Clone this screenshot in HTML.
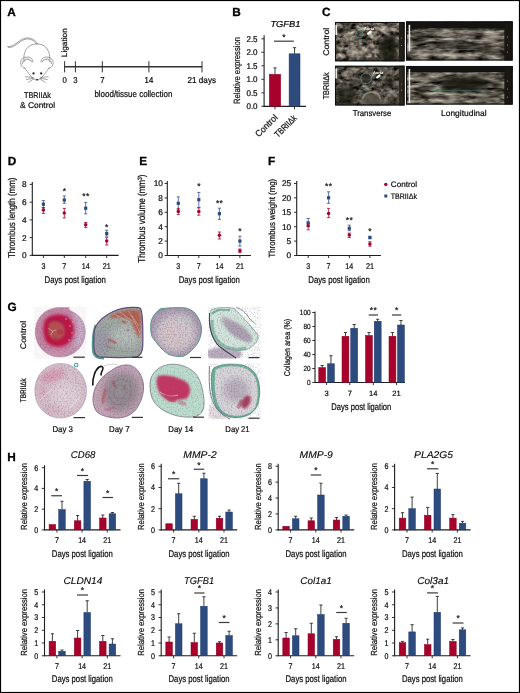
<!DOCTYPE html>
<html><head><meta charset="utf-8"><title>Figure</title>
<style>html,body{margin:0;padding:0;background:#fff;}svg{display:block;will-change:transform;}text{font-family:"Liberation Sans",sans-serif;stroke:#1e1e1e;stroke-width:0.22px;}</style>
</head><body>
<svg width="520" height="693" viewBox="0 0 520 693" font-family="Liberation Sans, sans-serif" text-rendering="geometricPrecision">
<defs>
<filter id="usn" x="0" y="0" width="100%" height="100%" color-interpolation-filters="sRGB">
 <feTurbulence type="fractalNoise" baseFrequency="0.16 0.22" numOctaves="3" seed="7" result="n"/>
 <feColorMatrix in="n" type="matrix" values="1.2 0 0 0 -0.21  1.17 0 0 0 -0.22  1.09 0 0 0 -0.22  0 0 0 0 1" result="c"/>
 <feGaussianBlur in="c" stdDeviation="0.5"/>
</filter>
<filter id="usn2" x="0" y="0" width="100%" height="100%" color-interpolation-filters="sRGB">
 <feTurbulence type="fractalNoise" baseFrequency="0.07 0.26" numOctaves="3" seed="11" result="n"/>
 <feColorMatrix in="n" type="matrix" values="1.12 0 0 0 -0.19  1.1 0 0 0 -0.2  1.03 0 0 0 -0.2  0 0 0 0 1" result="c"/>
 <feGaussianBlur in="c" stdDeviation="0.5"/>
</filter>
<filter id="bl1"><feGaussianBlur stdDeviation="1.2"/></filter>
<filter id="bl2"><feGaussianBlur stdDeviation="2.2"/></filter>
<filter id="bl3"><feGaussianBlur stdDeviation="3.5"/></filter>
<filter id="bl05"><feGaussianBlur stdDeviation="0.5"/></filter>
<filter id="hn" x="0" y="0" width="100%" height="100%" color-interpolation-filters="sRGB">
 <feTurbulence type="fractalNoise" baseFrequency="0.7" numOctaves="2" seed="3" result="n"/>
 <feColorMatrix in="n" type="matrix" values="0 0 0 0 0.36  0 0 0 0 0.28  0 0 0 0 0.42  3.2 0 0 0 -1.45" />
</filter>
</defs>
<rect x="0" y="0" width="520" height="693" fill="#fff"/>
<text x="7.30" y="15.80" font-size="11.8" font-weight="bold" style="fill:#000;stroke:#000;stroke-width:0.3px">A</text>
<g fill="none" stroke="#7a7a7a" stroke-width="0.7" stroke-linecap="round" stroke-linejoin="round">
<path d="M8.2 47.4 C 12 48.6, 17 44, 22 40.6 C 27 37.6, 33 38.6, 36.6 44.2"/>
<path d="M7.6 46.5 C 12 47.4, 16.5 43, 21.5 39.6 C 27 36.4, 33.8 37.6, 37.8 43.8"/>
<path d="M24.2 61.5 C 22.5 53, 26.5 44.2, 36.5 43.9 C 46.5 43.6, 51 52, 49.6 61.5"/>
<path d="M25 68.5 C 21 67.5, 19.8 63, 21.2 60.2 C 22.6 57.4, 26.5 56.4, 29.6 57.4 C 31.8 58.2, 33 60, 32.8 62"/>
<path d="M22.4 63.5 C 22.6 60.5, 25.5 58.8, 28.6 59.4 C 30 59.7, 31 60.6, 31.4 61.6" stroke="#b0b0b0" stroke-width="1.3"/>
<path d="M48.8 68.5 C 52.8 67.5, 54 63, 52.6 60.2 C 51.2 57.4, 47.3 56.4, 44.2 57.4 C 42 58.2, 40.8 60, 41 62"/>
<path d="M51.4 63.5 C 51.2 60.5, 48.3 58.8, 45.2 59.4 C 43.8 59.7, 42.8 60.6, 42.4 61.6" stroke="#b0b0b0" stroke-width="1.3"/>
<path d="M24.6 67.8 C 28 72.5, 32.5 79.5, 36.9 80.3 C 41.3 79.5, 45.8 72.5, 49.2 67.8"/>
<path d="M33.2 77.4 L 25.6 76.8 M33.4 78.2 L 26.4 79.6 M33.8 78.8 L 28.6 82.2 M40.6 77.4 L 48.2 76.8 M40.4 78.2 L 47.4 79.6 M40 78.8 L 45.2 82.2"/>
</g>
<circle cx="33.5" cy="73.4" r="1.15" fill="#222"/><circle cx="41.2" cy="73.4" r="1.15" fill="#222"/>
<path d="M35.7 78.9 L 38.5 78.9 L 37.1 80.8 Z" fill="#222"/>
<text x="37.50" y="98.00" font-size="8.3" text-anchor="middle" textLength="27" lengthAdjust="spacingAndGlyphs">TBRIIΔk</text>
<text x="37.50" y="107.80" font-size="8.3" text-anchor="middle" textLength="35" lengthAdjust="spacingAndGlyphs">&amp; Control</text>
<line x1="64.40" y1="66.70" x2="202.20" y2="66.70" stroke="#333" stroke-width="1.35"/>
<line x1="64.60" y1="61.20" x2="64.60" y2="72.40" stroke="#333" stroke-width="1.0"/>
<line x1="75.40" y1="61.20" x2="75.40" y2="72.40" stroke="#333" stroke-width="1.0"/>
<line x1="102.30" y1="61.20" x2="102.30" y2="72.40" stroke="#333" stroke-width="1.0"/>
<line x1="148.90" y1="61.20" x2="148.90" y2="72.40" stroke="#333" stroke-width="1.0"/>
<line x1="202.00" y1="61.20" x2="202.00" y2="72.40" stroke="#333" stroke-width="1.0"/>
<text x="64.60" y="83.40" font-size="8.6" text-anchor="middle" textLength="4.3" lengthAdjust="spacingAndGlyphs">0</text>
<text x="75.40" y="83.40" font-size="8.6" text-anchor="middle" textLength="4.3" lengthAdjust="spacingAndGlyphs">3</text>
<text x="102.30" y="83.40" font-size="8.6" text-anchor="middle" textLength="4.3" lengthAdjust="spacingAndGlyphs">7</text>
<text x="148.90" y="83.40" font-size="8.6" text-anchor="middle" textLength="8.61" lengthAdjust="spacingAndGlyphs">14</text>
<text x="187.60" y="83.40" font-size="8.6" textLength="28.4" lengthAdjust="spacingAndGlyphs">21 days</text>
<text x="94.40" y="96.60" font-size="9.2" textLength="78" lengthAdjust="spacingAndGlyphs">blood/tissue collection</text>
<text x="67.00" y="57.20" font-size="7.8" textLength="29" lengthAdjust="spacingAndGlyphs" transform="rotate(-90 67.00 57.20)">Ligation</text>
<text x="232.20" y="15.80" font-size="11.8" font-weight="bold" style="fill:#000;stroke:#000;stroke-width:0.3px">B</text>
<text x="285.40" y="26.80" font-size="8.6" text-anchor="middle" font-style="italic" textLength="30" lengthAdjust="spacingAndGlyphs">TGFB1</text>
<line x1="264.10" y1="35.20" x2="264.10" y2="106.80" stroke="#1e1e1e" stroke-width="1.1"/>
<line x1="261.40" y1="106.30" x2="264.10" y2="106.30" stroke="#1e1e1e" stroke-width="0.9"/>
<text x="257.60" y="109.29" font-size="8.3" text-anchor="end" textLength="11.19" lengthAdjust="spacingAndGlyphs">0.0</text>
<line x1="261.40" y1="92.80" x2="264.10" y2="92.80" stroke="#1e1e1e" stroke-width="0.9"/>
<text x="257.60" y="95.79" font-size="8.3" text-anchor="end" textLength="11.19" lengthAdjust="spacingAndGlyphs">0.5</text>
<line x1="261.40" y1="79.30" x2="264.10" y2="79.30" stroke="#1e1e1e" stroke-width="0.9"/>
<text x="257.60" y="82.29" font-size="8.3" text-anchor="end" textLength="11.19" lengthAdjust="spacingAndGlyphs">1.0</text>
<line x1="261.40" y1="65.80" x2="264.10" y2="65.80" stroke="#1e1e1e" stroke-width="0.9"/>
<text x="257.60" y="68.79" font-size="8.3" text-anchor="end" textLength="11.19" lengthAdjust="spacingAndGlyphs">1.5</text>
<line x1="261.40" y1="52.30" x2="264.10" y2="52.30" stroke="#1e1e1e" stroke-width="0.9"/>
<text x="257.60" y="55.29" font-size="8.3" text-anchor="end" textLength="11.19" lengthAdjust="spacingAndGlyphs">2.0</text>
<line x1="261.40" y1="38.80" x2="264.10" y2="38.80" stroke="#1e1e1e" stroke-width="0.9"/>
<text x="257.60" y="41.79" font-size="8.3" text-anchor="end" textLength="11.19" lengthAdjust="spacingAndGlyphs">2.5</text>
<line x1="263.50" y1="106.30" x2="306.00" y2="106.30" stroke="#1e1e1e" stroke-width="1.2"/>
<line x1="275.00" y1="74.30" x2="275.00" y2="67.90" stroke="#2a2a2a" stroke-width="0.9"/>
<line x1="273.40" y1="67.90" x2="276.60" y2="67.90" stroke="#2a2a2a" stroke-width="0.9"/>
<rect x="269.30" y="74.30" width="11.40" height="32.00" fill="#a6022c" stroke="#8c0022" stroke-width="0.5"/>
<line x1="294.55" y1="53.80" x2="294.55" y2="47.70" stroke="#2a2a2a" stroke-width="0.9"/>
<line x1="292.95" y1="47.70" x2="296.15" y2="47.70" stroke="#2a2a2a" stroke-width="0.9"/>
<rect x="289.10" y="53.80" width="10.90" height="52.50" fill="#2e4b7d" stroke="#1a3670" stroke-width="0.5"/>
<line x1="275.00" y1="106.30" x2="275.00" y2="109.30" stroke="#1e1e1e" stroke-width="0.9"/>
<line x1="294.50" y1="106.30" x2="294.50" y2="109.30" stroke="#1e1e1e" stroke-width="0.9"/>
<line x1="274.00" y1="41.20" x2="293.80" y2="41.20" stroke="#3a3a3a" stroke-width="1.2"/>
<text x="283.90" y="39.50" font-size="8.5" text-anchor="middle">*</text>
<text x="239.60" y="70.50" font-size="9.1" text-anchor="middle" textLength="67" lengthAdjust="spacingAndGlyphs" transform="rotate(-90 239.60 70.50)">Relative expression</text>
<text x="278.30" y="118.10" font-size="9" text-anchor="end" textLength="27.5" lengthAdjust="spacingAndGlyphs" transform="rotate(-45 278.30 118.10)">Control</text>
<text x="297.20" y="118.80" font-size="9" text-anchor="end" textLength="27" lengthAdjust="spacingAndGlyphs" transform="rotate(-45 297.20 118.80)">TBRIIΔk</text>
<text x="322.00" y="15.80" font-size="11.8" font-weight="bold" style="fill:#000;stroke:#000;stroke-width:0.3px">C</text>
<clipPath id="cu1"><rect x="335" y="22" width="69.5" height="39.3"/></clipPath>
<g clip-path="url(#cu1)">
<rect x="335" y="22" width="69.5" height="39.3" filter="url(#usn)"/>
<ellipse cx="342.3" cy="30.7" rx="4.5" ry="3.2" fill="#16130f" opacity="0.8" filter="url(#bl2)"/>
<ellipse cx="388" cy="48" rx="10" ry="12" fill="#16130f" opacity="0.85" filter="url(#bl2)"/>
<ellipse cx="392" cy="40" rx="6" ry="6" fill="#16130f" opacity="0.5" filter="url(#bl2)"/>
<ellipse cx="392" cy="59" rx="12" ry="3" fill="#16130f" opacity="0.7" filter="url(#bl2)"/>
<ellipse cx="366.5" cy="43" rx="4" ry="2.5" fill="#16130f" opacity="0.5" filter="url(#bl2)"/>
<ellipse cx="353" cy="40" rx="3" ry="2" fill="#16130f" opacity="0.35" filter="url(#bl2)"/>
<ellipse cx="338" cy="46" rx="3" ry="5" fill="#16130f" opacity="0.4" filter="url(#bl2)"/>
<ellipse cx="368" cy="60" rx="32" ry="1.8" fill="#16130f" opacity="0.55" filter="url(#bl2)"/>
<ellipse cx="359.3" cy="34.3" rx="3" ry="3" fill="#16130f" opacity="0.35" filter="url(#bl2)"/>
<ellipse cx="356" cy="52" rx="11" ry="4" fill="#cfc8ba" opacity="0.45" filter="url(#bl2)"/>
<ellipse cx="386" cy="29" rx="8" ry="4" fill="#cfc8ba" opacity="0.35" filter="url(#bl2)"/>
<ellipse cx="348" cy="37" rx="5" ry="3" fill="#cfc8ba" opacity="0.3" filter="url(#bl2)"/>
<ellipse cx="372" cy="49" rx="5" ry="3" fill="#cfc8ba" opacity="0.3" filter="url(#bl2)"/>
</g>
<rect x="399.00" y="22.00" width="5.50" height="39.30" fill="#221e19"/>
<rect x="335.5" y="22.5" width="68.5" height="38.3" fill="none" stroke="#111" stroke-width="1.1"/>
<rect x="335.40" y="25.00" width="1.70" height="10.00" fill="#ececec"/>
<circle cx="401.5" cy="38" r="0.6" fill="#b8a030"/><circle cx="401.5" cy="45.5" r="0.6" fill="#b8a030"/>
<circle cx="359.3" cy="34.3" r="3.7" fill="none" stroke="#4f9a94" stroke-width="0.7"/>
<path d="M356 41.2 L 366 41.2" stroke="#4f9a94" stroke-width="0.5" opacity="0.8"/>
<text x="364.00" y="30.40" font-size="3.9" font-weight="bold" fill="#fff" style="stroke:none">Aorta</text>
<path d="M368.3 33.7 L 370.6 31.7" stroke="#fff" stroke-width="2.3" stroke-linecap="round"/>
<clipPath id="cu2"><rect x="335" y="65.8" width="69.5" height="39.6"/></clipPath>
<g clip-path="url(#cu2)">
<rect x="335" y="65.8" width="69.5" height="39.6" filter="url(#usn)"/>
<rect x="335.00" y="65.80" width="69.50" height="39.60" fill="#000" opacity="0.18"/>
<ellipse cx="366.3" cy="78.5" rx="5" ry="5" fill="#16130f" opacity="0.75" filter="url(#bl2)"/>
<ellipse cx="346" cy="95" rx="10" ry="10" fill="#16130f" opacity="0.7" filter="url(#bl2)"/>
<ellipse cx="372" cy="100" rx="8" ry="5" fill="#16130f" opacity="0.65" filter="url(#bl2)"/>
<ellipse cx="388" cy="83" rx="6" ry="6" fill="#16130f" opacity="0.5" filter="url(#bl2)"/>
<ellipse cx="396" cy="100" rx="5" ry="5" fill="#16130f" opacity="0.5" filter="url(#bl2)"/>
<ellipse cx="355" cy="82" rx="5" ry="4" fill="#16130f" opacity="0.4" filter="url(#bl2)"/>
<ellipse cx="368" cy="105" rx="32" ry="1.8" fill="#16130f" opacity="0.5" filter="url(#bl2)"/>
<ellipse cx="352" cy="72" rx="9" ry="3" fill="#cfc8ba" opacity="0.35" filter="url(#bl2)"/>
<ellipse cx="386" cy="71" rx="8" ry="2" fill="#cfc8ba" opacity="0.3" filter="url(#bl2)"/>
<ellipse cx="392" cy="93" rx="4" ry="3" fill="#cfc8ba" opacity="0.35" filter="url(#bl2)"/>
<ellipse cx="345" cy="87" rx="4" ry="2" fill="#cfc8ba" opacity="0.3" filter="url(#bl2)"/>
</g>
<path d="M360 105 C 360 95, 365.5 91, 371.5 91 C 377.5 91, 383 95, 383 105 Z" fill="#6e675c" opacity="0.6" filter="url(#bl1)"/>
<path d="M362.5 99 C 363.5 94.5, 367 92.2, 371.5 92.2 C 376 92.2, 379.5 94.5, 380.5 99" fill="none" stroke="#b0a898" stroke-width="1.8" opacity="0.6" filter="url(#bl05)"/>
<path d="M385 104 C 385 97, 388 93.5, 392 93.5 C 396 93.5, 398.5 97, 398.5 104" fill="none" stroke="#a49c8e" stroke-width="2.5" opacity="0.4" filter="url(#bl1)"/>
<rect x="399.00" y="65.80" width="5.50" height="39.60" fill="#2a2620"/>
<rect x="335.5" y="66.3" width="68.5" height="38.6" fill="none" stroke="#111" stroke-width="1.1"/>
<rect x="335.40" y="68.50" width="1.70" height="10.00" fill="#e4e4e4"/>
<circle cx="401.5" cy="84" r="0.6" fill="#b8a030"/><circle cx="401.5" cy="90" r="0.6" fill="#b8a030"/>
<circle cx="366.2" cy="78.3" r="5.4" fill="none" stroke="#4f9a94" stroke-width="0.7"/>
<path d="M362 88.5 C 364 90.5, 369 90.5, 372 89" fill="none" stroke="#4f9a94" stroke-width="0.6"/>
<text x="373.00" y="73.80" font-size="3.9" font-weight="bold" fill="#fff" style="stroke:none">Aorta</text>
<path d="M377.2 77.3 L 379.6 75.4" stroke="#fff" stroke-width="2.3" stroke-linecap="round"/>
<clipPath id="cl1"><rect x="406" y="21.5" width="106.6" height="39"/></clipPath>
<g clip-path="url(#cl1)">
<rect x="406" y="21.5" width="106.6" height="39" filter="url(#usn2)"/>
<ellipse cx="420" cy="37" rx="10" ry="5" fill="#16130f" opacity="0.5" filter="url(#bl2)"/>
<ellipse cx="472" cy="47.5" rx="30" ry="3.5" fill="#16130f" opacity="0.65" filter="url(#bl2)" transform="rotate(8 472 47.5)"/>
<ellipse cx="445" cy="44" rx="12" ry="3" fill="#16130f" opacity="0.5" filter="url(#bl2)"/>
<ellipse cx="412" cy="58" rx="20" ry="2" fill="#16130f" opacity="0.4" filter="url(#bl2)"/>
<ellipse cx="446" cy="33" rx="8" ry="3" fill="#cfc8ba" opacity="0.5" filter="url(#bl2)"/>
<ellipse cx="490" cy="37" rx="10" ry="5" fill="#cfc8ba" opacity="0.35" filter="url(#bl2)"/>
<ellipse cx="430" cy="53" rx="15" ry="2.5" fill="#cfc8ba" opacity="0.45" filter="url(#bl2)"/>
<ellipse cx="465" cy="56" rx="18" ry="2" fill="#cfc8ba" opacity="0.35" filter="url(#bl2)"/>
</g>
<rect x="406.00" y="21.50" width="106.60" height="6.80" fill="#15130f"/>
<rect x="504.30" y="21.50" width="8.30" height="39.00" fill="#1a1712"/>
<rect x="406.5" y="22" width="105.6" height="38" fill="none" stroke="#111" stroke-width="1.1"/>
<rect x="408.60" y="24.80" width="1.60" height="26.50" fill="#ececec"/>
<circle cx="507.5" cy="37" r="0.6" fill="#b8a030"/>
<circle cx="507.5" cy="45" r="0.6" fill="#b8a030"/>
<circle cx="507.5" cy="52" r="0.6" fill="#b8a030"/>
<path d="M436 49.5 L 478 49.5" stroke="#4f9a94" stroke-width="0.45" opacity="0.8"/>
<clipPath id="cl2"><rect x="406" y="66" width="106.6" height="38.6"/></clipPath>
<g clip-path="url(#cl2)">
<rect x="406" y="66" width="106.6" height="38.6" filter="url(#usn2)"/>
<ellipse cx="465" cy="84" rx="25" ry="8" fill="#16130f" opacity="0.85" filter="url(#bl2)"/>
<ellipse cx="425" cy="89" rx="8" ry="3" fill="#16130f" opacity="0.4" filter="url(#bl2)"/>
<ellipse cx="498" cy="88" rx="6" ry="8" fill="#16130f" opacity="0.3" filter="url(#bl2)"/>
<ellipse cx="425" cy="78" rx="12" ry="3" fill="#cfc8ba" opacity="0.4" filter="url(#bl2)"/>
<ellipse cx="450" cy="100" rx="20" ry="2.5" fill="#cfc8ba" opacity="0.4" filter="url(#bl2)"/>
<ellipse cx="485" cy="96" rx="12" ry="3" fill="#cfc8ba" opacity="0.35" filter="url(#bl2)"/>
<ellipse cx="480" cy="74" rx="15" ry="2" fill="#cfc8ba" opacity="0.3" filter="url(#bl2)"/>
</g>
<rect x="406.00" y="66.00" width="106.60" height="6.20" fill="#15130f"/>
<rect x="504.30" y="66.00" width="8.30" height="38.60" fill="#1a1712"/>
<rect x="406.5" y="66.5" width="105.6" height="37.6" fill="none" stroke="#111" stroke-width="1.1"/>
<rect x="408.60" y="69.00" width="1.60" height="34.00" fill="#ececec"/>
<circle cx="507.5" cy="81" r="0.6" fill="#b8a030"/>
<circle cx="507.5" cy="89" r="0.6" fill="#b8a030"/>
<circle cx="507.5" cy="97" r="0.6" fill="#b8a030"/>
<path d="M430 90.5 L 484 90.5" stroke="#4f9a94" stroke-width="0.45" opacity="0.8"/>
<text x="329.00" y="41.80" font-size="8.2" text-anchor="middle" textLength="28" lengthAdjust="spacingAndGlyphs" transform="rotate(-90 329.00 41.80)">Control</text>
<text x="329.20" y="85.80" font-size="8.4" text-anchor="middle" textLength="27" lengthAdjust="spacingAndGlyphs" transform="rotate(-90 329.20 85.80)">TBRIIΔk</text>
<text x="372.00" y="115.60" font-size="8.4" text-anchor="middle" textLength="38.5" lengthAdjust="spacingAndGlyphs">Transverse</text>
<text x="463.80" y="115.60" font-size="8.4" text-anchor="middle" textLength="45.5" lengthAdjust="spacingAndGlyphs">Longitudinal</text>
<text x="7.80" y="165.00" font-size="11.8" font-weight="bold" style="fill:#000;stroke:#000;stroke-width:0.3px">D</text>
<line x1="32.30" y1="181.90" x2="32.30" y2="255.90" stroke="#1e1e1e" stroke-width="1.1"/>
<line x1="29.60" y1="255.40" x2="32.30" y2="255.40" stroke="#1e1e1e" stroke-width="0.9"/>
<text x="26.60" y="258.39" font-size="8.3" text-anchor="end" textLength="4.62" lengthAdjust="spacingAndGlyphs">0</text>
<line x1="29.60" y1="237.65" x2="32.30" y2="237.65" stroke="#1e1e1e" stroke-width="0.9"/>
<text x="26.60" y="240.64" font-size="8.3" text-anchor="end" textLength="4.62" lengthAdjust="spacingAndGlyphs">2</text>
<line x1="29.60" y1="219.90" x2="32.30" y2="219.90" stroke="#1e1e1e" stroke-width="0.9"/>
<text x="26.60" y="222.89" font-size="8.3" text-anchor="end" textLength="4.62" lengthAdjust="spacingAndGlyphs">4</text>
<line x1="29.60" y1="202.15" x2="32.30" y2="202.15" stroke="#1e1e1e" stroke-width="0.9"/>
<text x="26.60" y="205.14" font-size="8.3" text-anchor="end" textLength="4.62" lengthAdjust="spacingAndGlyphs">6</text>
<line x1="29.60" y1="184.40" x2="32.30" y2="184.40" stroke="#1e1e1e" stroke-width="0.9"/>
<text x="26.60" y="187.39" font-size="8.3" text-anchor="end" textLength="4.62" lengthAdjust="spacingAndGlyphs">8</text>
<line x1="31.80" y1="255.40" x2="118.60" y2="255.40" stroke="#1e1e1e" stroke-width="1.1"/>
<line x1="43.40" y1="255.40" x2="43.40" y2="258.00" stroke="#1e1e1e" stroke-width="0.9"/>
<line x1="64.30" y1="255.40" x2="64.30" y2="258.00" stroke="#1e1e1e" stroke-width="0.9"/>
<line x1="85.70" y1="255.40" x2="85.70" y2="258.00" stroke="#1e1e1e" stroke-width="0.9"/>
<line x1="106.70" y1="255.40" x2="106.70" y2="258.00" stroke="#1e1e1e" stroke-width="0.9"/>
<text x="43.40" y="269.40" font-size="8.3" text-anchor="middle" textLength="3.97" lengthAdjust="spacingAndGlyphs">3</text>
<text x="64.30" y="269.40" font-size="8.3" text-anchor="middle" textLength="3.97" lengthAdjust="spacingAndGlyphs">7</text>
<text x="85.70" y="269.40" font-size="8.3" text-anchor="middle" textLength="7.94" lengthAdjust="spacingAndGlyphs">14</text>
<text x="106.70" y="269.40" font-size="8.3" text-anchor="middle" textLength="7.94" lengthAdjust="spacingAndGlyphs">21</text>
<line x1="43.40" y1="200.60" x2="43.40" y2="207.90" stroke="#34528a" stroke-width="0.8"/>
<line x1="41.80" y1="200.60" x2="45.00" y2="200.60" stroke="#34528a" stroke-width="0.8"/>
<line x1="41.80" y1="207.90" x2="45.00" y2="207.90" stroke="#34528a" stroke-width="0.8"/>
<line x1="43.40" y1="207.50" x2="43.40" y2="213.40" stroke="#a80c34" stroke-width="0.8"/>
<line x1="41.80" y1="207.50" x2="45.00" y2="207.50" stroke="#a80c34" stroke-width="0.8"/>
<line x1="41.80" y1="213.40" x2="45.00" y2="213.40" stroke="#a80c34" stroke-width="0.8"/>
<rect x="41.80" y="202.60" width="3.20" height="3.20" fill="#2e4b7d"/>
<circle cx="43.40" cy="210.10" r="1.75" fill="#a6022c"/>
<line x1="64.30" y1="196.00" x2="64.30" y2="203.30" stroke="#34528a" stroke-width="0.8"/>
<line x1="62.70" y1="196.00" x2="65.90" y2="196.00" stroke="#34528a" stroke-width="0.8"/>
<line x1="62.70" y1="203.30" x2="65.90" y2="203.30" stroke="#34528a" stroke-width="0.8"/>
<line x1="64.30" y1="208.40" x2="64.30" y2="217.90" stroke="#a80c34" stroke-width="0.8"/>
<line x1="62.70" y1="208.40" x2="65.90" y2="208.40" stroke="#a80c34" stroke-width="0.8"/>
<line x1="62.70" y1="217.90" x2="65.90" y2="217.90" stroke="#a80c34" stroke-width="0.8"/>
<rect x="62.70" y="198.40" width="3.20" height="3.20" fill="#2e4b7d"/>
<circle cx="64.30" cy="213.00" r="1.75" fill="#a6022c"/>
<line x1="85.70" y1="202.40" x2="85.70" y2="213.90" stroke="#34528a" stroke-width="0.8"/>
<line x1="84.10" y1="202.40" x2="87.30" y2="202.40" stroke="#34528a" stroke-width="0.8"/>
<line x1="84.10" y1="213.90" x2="87.30" y2="213.90" stroke="#34528a" stroke-width="0.8"/>
<line x1="85.70" y1="222.50" x2="85.70" y2="227.60" stroke="#a80c34" stroke-width="0.8"/>
<line x1="84.10" y1="222.50" x2="87.30" y2="222.50" stroke="#a80c34" stroke-width="0.8"/>
<line x1="84.10" y1="227.60" x2="87.30" y2="227.60" stroke="#a80c34" stroke-width="0.8"/>
<rect x="84.10" y="206.60" width="3.20" height="3.20" fill="#2e4b7d"/>
<circle cx="85.70" cy="224.70" r="1.75" fill="#a6022c"/>
<line x1="106.70" y1="230.20" x2="106.70" y2="236.20" stroke="#34528a" stroke-width="0.8"/>
<line x1="105.10" y1="230.20" x2="108.30" y2="230.20" stroke="#34528a" stroke-width="0.8"/>
<line x1="105.10" y1="236.20" x2="108.30" y2="236.20" stroke="#34528a" stroke-width="0.8"/>
<line x1="106.70" y1="237.70" x2="106.70" y2="245.00" stroke="#a80c34" stroke-width="0.8"/>
<line x1="105.10" y1="237.70" x2="108.30" y2="237.70" stroke="#a80c34" stroke-width="0.8"/>
<line x1="105.10" y1="245.00" x2="108.30" y2="245.00" stroke="#a80c34" stroke-width="0.8"/>
<rect x="105.10" y="231.90" width="3.20" height="3.20" fill="#2e4b7d"/>
<circle cx="106.70" cy="241.10" r="1.75" fill="#a6022c"/>
<text x="64.30" y="193.50" font-size="8.5" text-anchor="middle">*</text>
<text x="83.85" y="199.00" font-size="8.5" text-anchor="middle">*</text>
<text x="87.55" y="199.00" font-size="8.5" text-anchor="middle">*</text>
<text x="106.70" y="229.50" font-size="8.5" text-anchor="middle">*</text>
<text x="75.20" y="282.90" font-size="9.7" text-anchor="middle" textLength="61.3" lengthAdjust="spacingAndGlyphs">Days post ligation</text>
<text x="15.00" y="217.80" font-size="9.8" text-anchor="middle" textLength="80.6" lengthAdjust="spacingAndGlyphs" transform="rotate(-90 15.00 217.80)">Thrombus length (mm)</text>
<text x="139.30" y="165.00" font-size="11.8" font-weight="bold" style="fill:#000;stroke:#000;stroke-width:0.3px">E</text>
<line x1="167.30" y1="181.00" x2="167.30" y2="256.00" stroke="#1e1e1e" stroke-width="1.1"/>
<line x1="164.60" y1="255.50" x2="167.30" y2="255.50" stroke="#1e1e1e" stroke-width="0.9"/>
<text x="162.90" y="258.49" font-size="8.3" text-anchor="end" textLength="4.62" lengthAdjust="spacingAndGlyphs">0</text>
<line x1="164.60" y1="241.10" x2="167.30" y2="241.10" stroke="#1e1e1e" stroke-width="0.9"/>
<text x="162.90" y="244.09" font-size="8.3" text-anchor="end" textLength="4.62" lengthAdjust="spacingAndGlyphs">2</text>
<line x1="164.60" y1="226.70" x2="167.30" y2="226.70" stroke="#1e1e1e" stroke-width="0.9"/>
<text x="162.90" y="229.69" font-size="8.3" text-anchor="end" textLength="4.62" lengthAdjust="spacingAndGlyphs">4</text>
<line x1="164.60" y1="212.30" x2="167.30" y2="212.30" stroke="#1e1e1e" stroke-width="0.9"/>
<text x="162.90" y="215.29" font-size="8.3" text-anchor="end" textLength="4.62" lengthAdjust="spacingAndGlyphs">6</text>
<line x1="164.60" y1="197.90" x2="167.30" y2="197.90" stroke="#1e1e1e" stroke-width="0.9"/>
<text x="162.90" y="200.89" font-size="8.3" text-anchor="end" textLength="4.62" lengthAdjust="spacingAndGlyphs">8</text>
<line x1="164.60" y1="183.50" x2="167.30" y2="183.50" stroke="#1e1e1e" stroke-width="0.9"/>
<text x="162.90" y="186.49" font-size="8.3" text-anchor="end" textLength="9.23" lengthAdjust="spacingAndGlyphs">10</text>
<line x1="166.80" y1="255.50" x2="250.90" y2="255.50" stroke="#1e1e1e" stroke-width="1.1"/>
<line x1="178.30" y1="255.50" x2="178.30" y2="258.10" stroke="#1e1e1e" stroke-width="0.9"/>
<line x1="198.80" y1="255.50" x2="198.80" y2="258.10" stroke="#1e1e1e" stroke-width="0.9"/>
<line x1="219.40" y1="255.50" x2="219.40" y2="258.10" stroke="#1e1e1e" stroke-width="0.9"/>
<line x1="239.90" y1="255.50" x2="239.90" y2="258.10" stroke="#1e1e1e" stroke-width="0.9"/>
<text x="178.30" y="269.40" font-size="8.3" text-anchor="middle" textLength="3.97" lengthAdjust="spacingAndGlyphs">3</text>
<text x="198.80" y="269.40" font-size="8.3" text-anchor="middle" textLength="3.97" lengthAdjust="spacingAndGlyphs">7</text>
<text x="219.40" y="269.40" font-size="8.3" text-anchor="middle" textLength="7.94" lengthAdjust="spacingAndGlyphs">14</text>
<text x="239.90" y="269.40" font-size="8.3" text-anchor="middle" textLength="7.94" lengthAdjust="spacingAndGlyphs">21</text>
<line x1="178.30" y1="196.90" x2="178.30" y2="209.70" stroke="#34528a" stroke-width="0.8"/>
<line x1="176.70" y1="196.90" x2="179.90" y2="196.90" stroke="#34528a" stroke-width="0.8"/>
<line x1="176.70" y1="209.70" x2="179.90" y2="209.70" stroke="#34528a" stroke-width="0.8"/>
<line x1="178.30" y1="208.40" x2="178.30" y2="214.60" stroke="#a80c34" stroke-width="0.8"/>
<line x1="176.70" y1="208.40" x2="179.90" y2="208.40" stroke="#a80c34" stroke-width="0.8"/>
<line x1="176.70" y1="214.60" x2="179.90" y2="214.60" stroke="#a80c34" stroke-width="0.8"/>
<rect x="176.70" y="201.70" width="3.20" height="3.20" fill="#2e4b7d"/>
<circle cx="178.30" cy="211.50" r="1.75" fill="#a6022c"/>
<line x1="198.80" y1="192.40" x2="198.80" y2="207.50" stroke="#34528a" stroke-width="0.8"/>
<line x1="197.20" y1="192.40" x2="200.40" y2="192.40" stroke="#34528a" stroke-width="0.8"/>
<line x1="197.20" y1="207.50" x2="200.40" y2="207.50" stroke="#34528a" stroke-width="0.8"/>
<line x1="198.80" y1="207.90" x2="198.80" y2="215.20" stroke="#a80c34" stroke-width="0.8"/>
<line x1="197.20" y1="207.90" x2="200.40" y2="207.90" stroke="#a80c34" stroke-width="0.8"/>
<line x1="197.20" y1="215.20" x2="200.40" y2="215.20" stroke="#a80c34" stroke-width="0.8"/>
<rect x="197.20" y="198.10" width="3.20" height="3.20" fill="#2e4b7d"/>
<circle cx="198.80" cy="211.50" r="1.75" fill="#a6022c"/>
<line x1="219.40" y1="208.20" x2="219.40" y2="219.40" stroke="#34528a" stroke-width="0.8"/>
<line x1="217.80" y1="208.20" x2="221.00" y2="208.20" stroke="#34528a" stroke-width="0.8"/>
<line x1="217.80" y1="219.40" x2="221.00" y2="219.40" stroke="#34528a" stroke-width="0.8"/>
<line x1="219.40" y1="232.00" x2="219.40" y2="239.00" stroke="#a80c34" stroke-width="0.8"/>
<line x1="217.80" y1="232.00" x2="221.00" y2="232.00" stroke="#a80c34" stroke-width="0.8"/>
<line x1="217.80" y1="239.00" x2="221.00" y2="239.00" stroke="#a80c34" stroke-width="0.8"/>
<rect x="217.80" y="212.10" width="3.20" height="3.20" fill="#2e4b7d"/>
<circle cx="219.40" cy="235.30" r="1.75" fill="#a6022c"/>
<line x1="239.90" y1="236.20" x2="239.90" y2="246.20" stroke="#34528a" stroke-width="0.8"/>
<line x1="238.30" y1="236.20" x2="241.50" y2="236.20" stroke="#34528a" stroke-width="0.8"/>
<line x1="238.30" y1="246.20" x2="241.50" y2="246.20" stroke="#34528a" stroke-width="0.8"/>
<line x1="239.90" y1="249.00" x2="239.90" y2="252.60" stroke="#a80c34" stroke-width="0.8"/>
<line x1="238.30" y1="249.00" x2="241.50" y2="249.00" stroke="#a80c34" stroke-width="0.8"/>
<line x1="238.30" y1="252.60" x2="241.50" y2="252.60" stroke="#a80c34" stroke-width="0.8"/>
<rect x="238.30" y="239.50" width="3.20" height="3.20" fill="#2e4b7d"/>
<circle cx="239.90" cy="250.80" r="1.75" fill="#a6022c"/>
<text x="198.80" y="189.30" font-size="8.5" text-anchor="middle">*</text>
<text x="217.55" y="205.80" font-size="8.5" text-anchor="middle">*</text>
<text x="221.25" y="205.80" font-size="8.5" text-anchor="middle">*</text>
<text x="239.90" y="234.10" font-size="8.5" text-anchor="middle">*</text>
<text x="209.30" y="282.90" font-size="9.7" text-anchor="middle" textLength="61.2" lengthAdjust="spacingAndGlyphs">Days post ligation</text>
<text x="145.2" y="218.6" font-size="10" text-anchor="middle" transform="rotate(-90 145.2 218.6)" textLength="88.3" lengthAdjust="spacingAndGlyphs">Thrombus volume (mm<tspan font-size="6.2" dy="-3.6">3</tspan><tspan dy="3.6">)</tspan></text>
<text x="267.90" y="165.00" font-size="11.8" font-weight="bold" style="fill:#000;stroke:#000;stroke-width:0.3px">F</text>
<line x1="296.70" y1="181.00" x2="296.70" y2="256.00" stroke="#1e1e1e" stroke-width="1.1"/>
<line x1="294.00" y1="255.50" x2="296.70" y2="255.50" stroke="#1e1e1e" stroke-width="0.9"/>
<text x="291.20" y="258.49" font-size="8.3" text-anchor="end" textLength="4.62" lengthAdjust="spacingAndGlyphs">0</text>
<line x1="294.00" y1="241.10" x2="296.70" y2="241.10" stroke="#1e1e1e" stroke-width="0.9"/>
<text x="291.20" y="244.09" font-size="8.3" text-anchor="end" textLength="4.62" lengthAdjust="spacingAndGlyphs">5</text>
<line x1="294.00" y1="226.70" x2="296.70" y2="226.70" stroke="#1e1e1e" stroke-width="0.9"/>
<text x="291.20" y="229.69" font-size="8.3" text-anchor="end" textLength="9.23" lengthAdjust="spacingAndGlyphs">10</text>
<line x1="294.00" y1="212.30" x2="296.70" y2="212.30" stroke="#1e1e1e" stroke-width="0.9"/>
<text x="291.20" y="215.29" font-size="8.3" text-anchor="end" textLength="9.23" lengthAdjust="spacingAndGlyphs">15</text>
<line x1="294.00" y1="197.90" x2="296.70" y2="197.90" stroke="#1e1e1e" stroke-width="0.9"/>
<text x="291.20" y="200.89" font-size="8.3" text-anchor="end" textLength="9.23" lengthAdjust="spacingAndGlyphs">20</text>
<line x1="294.00" y1="183.50" x2="296.70" y2="183.50" stroke="#1e1e1e" stroke-width="0.9"/>
<text x="291.20" y="186.49" font-size="8.3" text-anchor="end" textLength="9.23" lengthAdjust="spacingAndGlyphs">25</text>
<line x1="296.20" y1="255.50" x2="380.90" y2="255.50" stroke="#1e1e1e" stroke-width="1.1"/>
<line x1="308.20" y1="255.50" x2="308.20" y2="258.10" stroke="#1e1e1e" stroke-width="0.9"/>
<line x1="328.60" y1="255.50" x2="328.60" y2="258.10" stroke="#1e1e1e" stroke-width="0.9"/>
<line x1="349.30" y1="255.50" x2="349.30" y2="258.10" stroke="#1e1e1e" stroke-width="0.9"/>
<line x1="369.90" y1="255.50" x2="369.90" y2="258.10" stroke="#1e1e1e" stroke-width="0.9"/>
<text x="308.20" y="269.40" font-size="8.3" text-anchor="middle" textLength="3.97" lengthAdjust="spacingAndGlyphs">3</text>
<text x="328.60" y="269.40" font-size="8.3" text-anchor="middle" textLength="3.97" lengthAdjust="spacingAndGlyphs">7</text>
<text x="349.30" y="269.40" font-size="8.3" text-anchor="middle" textLength="7.94" lengthAdjust="spacingAndGlyphs">14</text>
<text x="369.90" y="269.40" font-size="8.3" text-anchor="middle" textLength="7.94" lengthAdjust="spacingAndGlyphs">21</text>
<line x1="308.20" y1="218.50" x2="308.20" y2="226.20" stroke="#34528a" stroke-width="0.8"/>
<line x1="306.60" y1="218.50" x2="309.80" y2="218.50" stroke="#34528a" stroke-width="0.8"/>
<line x1="306.60" y1="226.20" x2="309.80" y2="226.20" stroke="#34528a" stroke-width="0.8"/>
<line x1="308.20" y1="222.90" x2="308.20" y2="229.80" stroke="#a80c34" stroke-width="0.8"/>
<line x1="306.60" y1="222.90" x2="309.80" y2="222.90" stroke="#a80c34" stroke-width="0.8"/>
<line x1="306.60" y1="229.80" x2="309.80" y2="229.80" stroke="#a80c34" stroke-width="0.8"/>
<rect x="306.60" y="221.30" width="3.20" height="3.20" fill="#2e4b7d"/>
<circle cx="308.20" cy="225.80" r="1.75" fill="#a6022c"/>
<line x1="328.60" y1="191.80" x2="328.60" y2="203.30" stroke="#34528a" stroke-width="0.8"/>
<line x1="327.00" y1="191.80" x2="330.20" y2="191.80" stroke="#34528a" stroke-width="0.8"/>
<line x1="327.00" y1="203.30" x2="330.20" y2="203.30" stroke="#34528a" stroke-width="0.8"/>
<line x1="328.60" y1="208.40" x2="328.60" y2="217.60" stroke="#a80c34" stroke-width="0.8"/>
<line x1="327.00" y1="208.40" x2="330.20" y2="208.40" stroke="#a80c34" stroke-width="0.8"/>
<line x1="327.00" y1="217.60" x2="330.20" y2="217.60" stroke="#a80c34" stroke-width="0.8"/>
<rect x="327.00" y="196.20" width="3.20" height="3.20" fill="#2e4b7d"/>
<circle cx="328.60" cy="213.40" r="1.75" fill="#a6022c"/>
<line x1="349.30" y1="225.20" x2="349.30" y2="230.70" stroke="#34528a" stroke-width="0.8"/>
<line x1="347.70" y1="225.20" x2="350.90" y2="225.20" stroke="#34528a" stroke-width="0.8"/>
<line x1="347.70" y1="230.70" x2="350.90" y2="230.70" stroke="#34528a" stroke-width="0.8"/>
<line x1="349.30" y1="233.10" x2="349.30" y2="237.50" stroke="#a80c34" stroke-width="0.8"/>
<line x1="347.70" y1="233.10" x2="350.90" y2="233.10" stroke="#a80c34" stroke-width="0.8"/>
<line x1="347.70" y1="237.50" x2="350.90" y2="237.50" stroke="#a80c34" stroke-width="0.8"/>
<rect x="347.70" y="226.70" width="3.20" height="3.20" fill="#2e4b7d"/>
<circle cx="349.30" cy="234.90" r="1.75" fill="#a6022c"/>
<line x1="369.90" y1="236.30" x2="369.90" y2="238.70" stroke="#34528a" stroke-width="0.8"/>
<line x1="368.30" y1="236.30" x2="371.50" y2="236.30" stroke="#34528a" stroke-width="0.8"/>
<line x1="368.30" y1="238.70" x2="371.50" y2="238.70" stroke="#34528a" stroke-width="0.8"/>
<line x1="369.90" y1="241.70" x2="369.90" y2="246.20" stroke="#a80c34" stroke-width="0.8"/>
<line x1="368.30" y1="241.70" x2="371.50" y2="241.70" stroke="#a80c34" stroke-width="0.8"/>
<line x1="368.30" y1="246.20" x2="371.50" y2="246.20" stroke="#a80c34" stroke-width="0.8"/>
<rect x="368.30" y="235.90" width="3.20" height="3.20" fill="#2e4b7d"/>
<circle cx="369.90" cy="244.00" r="1.75" fill="#a6022c"/>
<text x="326.75" y="189.30" font-size="8.5" text-anchor="middle">*</text>
<text x="330.45" y="189.30" font-size="8.5" text-anchor="middle">*</text>
<text x="347.45" y="222.60" font-size="8.5" text-anchor="middle">*</text>
<text x="351.15" y="222.60" font-size="8.5" text-anchor="middle">*</text>
<text x="369.90" y="233.60" font-size="8.5" text-anchor="middle">*</text>
<text x="339.00" y="282.90" font-size="9.7" text-anchor="middle" textLength="61.5" lengthAdjust="spacingAndGlyphs">Days post ligation</text>
<text x="275.20" y="218.20" font-size="9" text-anchor="middle" textLength="78.8" lengthAdjust="spacingAndGlyphs" transform="rotate(-90 275.20 218.20)">Thrombus weight (mg)</text>
<circle cx="385.8" cy="184.4" r="1.7" fill="#a6022c"/>
<rect x="384.30" y="194.50" width="3.00" height="3.00" fill="#2e4b7d"/>
<text x="390.80" y="187.10" font-size="8" textLength="26.2" lengthAdjust="spacingAndGlyphs">Control</text>
<text x="390.80" y="198.70" font-size="8" textLength="26.2" lengthAdjust="spacingAndGlyphs">TBRIIΔk</text>
<text x="7.40" y="311.30" font-size="11.8" font-weight="bold" style="fill:#000;stroke:#000;stroke-width:0.3px">G</text>
<rect x="34.00" y="306.70" width="52.00" height="52.30" fill="#f8f6f6"/>
<clipPath id="g1"><path d="M35.3 332 C 35.3 317, 46 307.5, 60 307.5 C 64 307.5, 67 307.8, 69 307.2 C 68.5 309, 69.5 310, 72 311.5 C 81 316, 85.3 323, 85.3 332 C 85.3 346, 74 357, 60 357 C 46 357, 35.3 346, 35.3 332 Z"/></clipPath>
<path d="M35.3 332 C 35.3 317, 46 307.5, 60 307.5 C 64 307.5, 67 307.8, 69 307.2 C 68.5 309, 69.5 310, 72 311.5 C 81 316, 85.3 323, 85.3 332 C 85.3 346, 74 357, 60 357 C 46 357, 35.3 346, 35.3 332 Z" fill="#c58ca8" opacity="1"/>
<g clip-path="url(#g1)">
<ellipse cx="77" cy="330" rx="9" ry="18" fill="#cbbfd4" opacity="0.85" filter="url(#bl3)"/>
<ellipse cx="62" cy="352" rx="18" ry="5" fill="#cfa0b8" opacity="0.5" filter="url(#bl2)"/>
<path d="M42 322 C 46 312, 62 310, 71 315 C 77 319, 79 328, 77 336 C 75 343, 70 348, 62 349.5 C 53 350.5, 45 347, 42.5 340 C 40.5 334, 40.5 327, 42 322 Z" fill="#c96a92" opacity="0.7" filter="url(#bl2)"/>
<path d="M44.5 322 C 47 315, 59 313, 67 316.5 C 72 319, 74.5 326, 73.5 333 C 72.5 340, 68.5 344.5, 62 346 C 55 347.5, 48 345, 45.5 340 C 43.5 335, 43 327, 44.5 322 Z" fill="#bf0f3c" opacity="0.92" filter="url(#bl1)"/>
<path d="M49 324 C 52 320, 58 321, 62 324 C 65 327, 66 332, 63 337 C 59 341, 53 341, 50 337 C 48 333, 47.5 328, 49 324 Z" fill="#b67a56" opacity="0.6" filter="url(#bl1)"/>
<ellipse cx="60" cy="332" rx="3" ry="2.5" fill="#b02848" opacity="0.5" filter="url(#bl05)"/>
<ellipse cx="56" cy="338" rx="2" ry="1.5" fill="#b02848" opacity="0.4" filter="url(#bl05)"/>
<ellipse cx="70" cy="326" rx="1.2" ry="0.9" fill="#e0a8c0" opacity="0.45" filter="url(#bl05)"/>
<ellipse cx="72" cy="333" rx="1.2" ry="0.9" fill="#e0a8c0" opacity="0.45" filter="url(#bl05)"/>
<ellipse cx="69" cy="340" rx="1.2" ry="0.9" fill="#e0a8c0" opacity="0.45" filter="url(#bl05)"/>
<ellipse cx="66" cy="319" rx="1.2" ry="0.9" fill="#e0a8c0" opacity="0.45" filter="url(#bl05)"/>
<ellipse cx="73" cy="322" rx="1.2" ry="0.9" fill="#e0a8c0" opacity="0.45" filter="url(#bl05)"/>
<path d="M48.5 328.5 L 53 331.5 L 50.5 335 M 52.5 331 L 56 330" stroke="#f2e4dc" stroke-width="0.6" fill="none" opacity="0.8"/>
</g>
<rect x="35" y="307" width="51" height="50" filter="url(#hn)" opacity="0.3" clip-path="url(#g1)"/>
<path d="M35.3 332 C 35.3 317, 46 307.5, 60 307.5 C 64 307.5, 67 307.8, 69 307.2 C 68.5 309, 69.5 310, 72 311.5 C 81 316, 85.3 323, 85.3 332 C 85.3 346, 74 357, 60 357 C 46 357, 35.3 346, 35.3 332 Z" fill="none" stroke="#b08aa8" stroke-width="0.5"/>
<line x1="73.40" y1="357.20" x2="84.80" y2="357.20" stroke="#333" stroke-width="1.2"/>
<clipPath id="g2"><path d="M94 334 C 94 326, 100 319, 107 315 C 113 311, 120 308, 128 307.6 C 134 307.3, 139 307, 140.5 308.5 C 143 313, 143 330, 142.8 345 C 142.7 352, 141 356.5, 135 357.2 C 123 357.8, 108 357.5, 99 356.8 C 94.5 356, 93.8 350, 93.8 344 Z"/></clipPath>
<path d="M96 325 C 93 332, 92.5 345, 93.5 352 C 94 356, 97 358, 104 358.3" fill="none" stroke="#4f9c88" stroke-width="2.6"/>
<path d="M94 334 C 94 326, 100 319, 107 315 C 113 311, 120 308, 128 307.6 C 134 307.3, 139 307, 140.5 308.5 C 143 313, 143 330, 142.8 345 C 142.7 352, 141 356.5, 135 357.2 C 123 357.8, 108 357.5, 99 356.8 C 94.5 356, 93.8 350, 93.8 344 Z" fill="#9ea9a2" opacity="1"/>
<g clip-path="url(#g2)">
<ellipse cx="126" cy="336" rx="15" ry="11" fill="#c2cac5" opacity="0.6" filter="url(#bl3)"/>
<ellipse cx="101" cy="343" rx="8" ry="14" fill="#9c8caa" opacity="0.5" filter="url(#bl3)"/>
<path d="M110 316 C 118 310.5, 131 309, 139.5 310.5 C 141.5 318, 141.5 330, 139 339 C 136 334, 134 327, 131 321 C 127 317, 118 317, 110 318 Z" fill="#c6432b" opacity="0.68" filter="url(#bl1)"/>
<path d="M114 314 L 130 322" stroke="#c8d0cb" stroke-width="0.9" opacity="0.55"/>
<path d="M120 312 L 136 324" stroke="#c8d0cb" stroke-width="0.9" opacity="0.55"/>
<path d="M128 311 L 139 326" stroke="#c8d0cb" stroke-width="0.9" opacity="0.55"/>
<path d="M132 316 L 140 333" stroke="#c8d0cb" stroke-width="0.9" opacity="0.55"/>
<ellipse cx="124" cy="322" rx="3" ry="1.2" fill="#c84a30" opacity="0.6" filter="url(#bl05)" transform="rotate(30 124 322)"/>
<ellipse cx="112" cy="341" rx="5" ry="1.5" fill="#b24040" opacity="0.6" filter="url(#bl05)" transform="rotate(25 112 341)"/>
<ellipse cx="109" cy="347" rx="4" ry="1.1" fill="#a05060" opacity="0.45" filter="url(#bl05)" transform="rotate(25 109 347)"/>
<ellipse cx="128" cy="330" rx="2" ry="1" fill="#c05040" opacity="0.5" filter="url(#bl05)"/>
</g>
<rect x="93" y="307" width="51" height="51" filter="url(#hn)" opacity="0.3" clip-path="url(#g2)"/>
<path d="M94 334 C 94 326, 100 319, 107 315 C 113 311, 120 308, 128 307.6 C 134 307.3, 139 307, 140.5 308.5 C 143 313, 143 330, 142.8 345 C 142.7 352, 141 356.5, 135 357.2 C 123 357.8, 108 357.5, 99 356.8 C 94.5 356, 93.8 350, 93.8 344 Z" fill="none" stroke="#5e4a7a" stroke-width="1.2"/>
<line x1="132.00" y1="357.30" x2="142.50" y2="357.30" stroke="#333" stroke-width="1.2"/>
<clipPath id="g3"><path d="M160 308.9 C 168 307.5, 178 307.5, 184.2 307.8 C 190 308.5, 195 312, 197 316 C 200 320, 201.5 325, 201.5 329 C 201.5 336, 199 342, 195.8 345.8 C 192 350, 188 355, 183 356.2 C 178 357, 172 356, 168 354 C 162 350, 156 343, 152 336.6 C 150.5 332, 150.5 327, 150.8 323.9 C 151.5 318, 154 314, 160 308.9 Z"/></clipPath>
<path d="M160 308.9 C 168 307.5, 178 307.5, 184.2 307.8 C 190 308.5, 195 312, 197 316 C 200 320, 201.5 325, 201.5 329 C 201.5 336, 199 342, 195.8 345.8 C 192 350, 188 355, 183 356.2 C 178 357, 172 356, 168 354 C 162 350, 156 343, 152 336.6 C 150.5 332, 150.5 327, 150.8 323.9 C 151.5 318, 154 314, 160 308.9 Z" fill="#aa9cb2" opacity="1"/>
<g clip-path="url(#g3)">
<ellipse cx="176" cy="333" rx="20" ry="19" fill="#d6cace" opacity="0.95" filter="url(#bl3)"/>
<ellipse cx="172" cy="338" rx="9" ry="10" fill="#d6c4c6" opacity="0.7" filter="url(#bl2)"/>
<ellipse cx="185" cy="320" rx="8" ry="6" fill="#c2ccc6" opacity="0.5" filter="url(#bl2)"/>
</g>
<rect x="150" y="307" width="52" height="51" filter="url(#hn)" opacity="0.3" clip-path="url(#g3)"/>
<path d="M160 308.9 C 168 307.5, 178 307.5, 184.2 307.8 C 190 308.5, 195 312, 197 316 C 200 320, 201.5 325, 201.5 329 C 201.5 336, 199 342, 195.8 345.8 C 192 350, 188 355, 183 356.2 C 178 357, 172 356, 168 354 C 162 350, 156 343, 152 336.6 C 150.5 332, 150.5 327, 150.8 323.9 C 151.5 318, 154 314, 160 308.9 Z" fill="none" stroke="#4e8e80" stroke-width="0.9"/>
<path d="M155 314 C 158 311, 162 309.5, 166 309" fill="none" stroke="#4e9684" stroke-width="0.7"/>
<line x1="190.00" y1="357.50" x2="201.00" y2="357.50" stroke="#333" stroke-width="1.2"/>
<clipPath id="g4b"><rect x="208.1" y="307" width="52.5" height="51.6"/></clipPath>
<g clip-path="url(#g4b)">
<ellipse cx="224" cy="354" rx="18" ry="7" fill="#b0a0b6" opacity="0.85" filter="url(#bl1)"/>
<path d="M211 310 C 218 307, 228 306.8, 234 308.5 C 240 314, 250 325, 258 335 C 259 340, 255 345, 248 349 C 240 352, 228 350, 220 345 C 213 340, 209.5 330, 209.5 320 C 209.5 315, 209.8 312, 211 310 Z" fill="#d4e7dd" opacity="1"/>
<path d="M212 314 C 215 310, 222 309, 230 310" fill="none" stroke="#7fb3a2" stroke-width="2.4" filter="url(#bl05)"/>
<path d="M212 320 C 211.5 330, 214 338, 221 344 C 228 349, 238 350, 246 348" fill="none" stroke="#8fc0ae" stroke-width="3" filter="url(#bl05)"/>
<ellipse cx="238" cy="331" rx="17" ry="6.5" fill="#a898ab" opacity="0.85" filter="url(#bl1)" transform="rotate(36 238 331)"/>
<ellipse cx="226" cy="321" rx="6" ry="4" fill="#b0a4b4" opacity="0.6" filter="url(#bl1)" transform="rotate(36 226 321)"/>
</g>
<path d="M211 310 C 218 307, 228 306.8, 234 308.5 C 240 314, 250 325, 258 335 C 259 340, 255 345, 248 349 C 240 352, 228 350, 220 345 C 213 340, 209.5 330, 209.5 320 C 209.5 315, 209.8 312, 211 310 Z" fill="none" stroke="#6a9c90" stroke-width="0.7"/>
<path d="M236 307.5 C 242 309, 246 313, 249 318 C 251 321, 254 322, 255.5 324" fill="none" stroke="#6e7590" stroke-width="0.8"/>
<path d="M209.5 313 C 208.8 325, 210 337, 219 346 C 226 352, 232 355, 236 358" fill="none" stroke="#3e4450" stroke-width="1.1"/>
<rect x="208" y="307" width="53" height="52" filter="url(#hn)" opacity="0.25" clip-path="url(#g4b)"/>
<line x1="248.50" y1="357.60" x2="259.50" y2="357.60" stroke="#333" stroke-width="1.2"/>
<clipPath id="g5"><path d="M34.8 391 C 34.8 375, 46 363.5, 60.5 363.5 C 75 363.5, 86.5 375, 86.5 391 C 86.5 406, 75 418, 60.5 418 C 46 418, 34.8 406, 34.8 391 Z"/></clipPath>
<path d="M34.8 391 C 34.8 375, 46 363.5, 60.5 363.5 C 75 363.5, 86.5 375, 86.5 391 C 86.5 406, 75 418, 60.5 418 C 46 418, 34.8 406, 34.8 391 Z" fill="#d8c2cc" opacity="1"/>
<g clip-path="url(#g5)">
<ellipse cx="52" cy="376" rx="13" ry="6" fill="#d688a4" opacity="0.6" filter="url(#bl2)" transform="rotate(-20 52 376)"/>
<ellipse cx="42" cy="392" rx="5" ry="8" fill="#d4a0b4" opacity="0.45" filter="url(#bl2)"/>
<ellipse cx="66" cy="396" rx="14" ry="13" fill="#e4d6dc" opacity="0.7" filter="url(#bl3)"/>
<ellipse cx="52" cy="410" rx="10" ry="5" fill="#d2a8bb" opacity="0.45" filter="url(#bl2)"/>
</g>
<rect x="34" y="363" width="53" height="56" filter="url(#hn)" opacity="0.25" clip-path="url(#g5)"/>
<path d="M34.8 391 C 34.8 375, 46 363.5, 60.5 363.5 C 75 363.5, 86.5 375, 86.5 391 C 86.5 406, 75 418, 60.5 418 C 46 418, 34.8 406, 34.8 391 Z" fill="none" stroke="#9a88a6" stroke-width="0.5"/>
<path d="M40 400 L 52 389 M 70 408 L 80 396" stroke="#f2eaee" stroke-width="0.6" fill="none"/>
<circle cx="76.2" cy="365" r="1.8" fill="none" stroke="#4aa0a0" stroke-width="1.1"/>
<line x1="73.50" y1="417.60" x2="85.00" y2="417.60" stroke="#333" stroke-width="1.2"/>
<clipPath id="g6"><path d="M126 364.9 C 134 364.5, 141 371, 143.4 383.4 C 144.5 393, 141 402, 136.5 408.8 C 132 415, 124 418, 118 418 C 110 418, 102 416, 97.2 412.2 C 93 407, 92.5 400, 93.2 396 C 94 390, 96 385, 99.5 381 C 103 376, 107 373, 111 370.7 C 116 367, 121 365, 126 364.9 Z"/></clipPath>
<path d="M126 364.9 C 134 364.5, 141 371, 143.4 383.4 C 144.5 393, 141 402, 136.5 408.8 C 132 415, 124 418, 118 418 C 110 418, 102 416, 97.2 412.2 C 93 407, 92.5 400, 93.2 396 C 94 390, 96 385, 99.5 381 C 103 376, 107 373, 111 370.7 C 116 367, 121 365, 126 364.9 Z" fill="#c4a6b6" opacity="1"/>
<g clip-path="url(#g6)">
<ellipse cx="121" cy="392" rx="18" ry="20" fill="#948890" opacity="0.92" filter="url(#bl3)" transform="rotate(20 121 392)"/>
<ellipse cx="122" cy="386" rx="10" ry="10" fill="#8f9894" opacity="0.5" filter="url(#bl3)"/>
<ellipse cx="104" cy="396" rx="1.6" ry="9" fill="#c43c48" opacity="0.45" filter="url(#bl05)" transform="rotate(10 104 396)"/>
<ellipse cx="114" cy="384" rx="1.5" ry="4" fill="#b03048" opacity="0.4" filter="url(#bl05)" transform="rotate(-20 114 384)"/>
<ellipse cx="110" cy="409" rx="6" ry="1.4" fill="#c45060" opacity="0.4" filter="url(#bl05)" transform="rotate(-15 110 409)"/>
<ellipse cx="124" cy="388" rx="1.4" ry="3" fill="#b04858" opacity="0.35" filter="url(#bl05)" transform="rotate(30 124 388)"/>
<ellipse cx="120" cy="392" rx="11" ry="13" fill="none" stroke="#806a80" stroke-width="0.8" opacity="0.5" transform="rotate(20 120 392)"/>
<ellipse cx="120" cy="392" rx="6" ry="7" fill="none" stroke="#806a80" stroke-width="0.8" opacity="0.5" transform="rotate(20 120 392)"/>
</g>
<rect x="92" y="363" width="52" height="56" filter="url(#hn)" opacity="0.25" clip-path="url(#g6)"/>
<path d="M126 364.9 C 134 364.5, 141 371, 143.4 383.4 C 144.5 393, 141 402, 136.5 408.8 C 132 415, 124 418, 118 418 C 110 418, 102 416, 97.2 412.2 C 93 407, 92.5 400, 93.2 396 C 94 390, 96 385, 99.5 381 C 103 376, 107 373, 111 370.7 C 116 367, 121 365, 126 364.9 Z" fill="none" stroke="#7a6484" stroke-width="0.8"/>
<path d="M92.8 385 C 92.5 378, 95 370, 99.2 367 C 102 365.5, 104 367, 102.5 370 C 101.5 372, 101 373.5, 101 375" fill="none" stroke="#151515" stroke-width="1.6" stroke-linecap="round"/>
<path d="M104 366 C 110 363.5, 116 364, 118 365" fill="none" stroke="#b8a8c0" stroke-width="0.6"/>
<line x1="131.80" y1="417.40" x2="143.00" y2="417.40" stroke="#333" stroke-width="1.2"/>
<clipPath id="g7"><path d="M150 383 C 151 372, 160 364.5, 172 364.2 C 182 364, 190 368, 195 373 C 199 377, 201 383, 202.5 390 C 204 397, 205 404, 203 410 C 201 415, 196 417.5, 188 417.2 C 178 417, 168 414, 160 408 C 153 403, 149.5 395, 150 383 Z"/></clipPath>
<path d="M150 383 C 151 372, 160 364.5, 172 364.2 C 182 364, 190 368, 195 373 C 199 377, 201 383, 202.5 390 C 204 397, 205 404, 203 410 C 201 415, 196 417.5, 188 417.2 C 178 417, 168 414, 160 408 C 153 403, 149.5 395, 150 383 Z" fill="#bcdecd" opacity="1"/>
<g clip-path="url(#g7)">
<path d="M158 376 C 166 373.5, 177 377, 185 381 C 191 385, 191.5 392, 188 397 C 184 401, 179 398.5, 175 401 C 170 403, 165 399, 161 395 C 157 390, 155 380, 158 376 Z" fill="#c62454" opacity="0.88" filter="url(#bl1)"/>
<path d="M160 392 C 166 396, 172 397, 178 395" stroke="#cfe6da" stroke-width="1" fill="none" opacity="0.7"/>
<ellipse cx="170" cy="398" rx="7" ry="3" fill="#c04068" opacity="0.55" filter="url(#bl05)" transform="rotate(30 170 398)"/>
<ellipse cx="182" cy="403" rx="5" ry="2" fill="#c05070" opacity="0.45" filter="url(#bl05)" transform="rotate(20 182 403)"/>
</g>
<rect x="148" y="363" width="58" height="56" filter="url(#hn)" opacity="0.22" clip-path="url(#g7)"/>
<path d="M150 383 C 151 372, 160 364.5, 172 364.2 C 182 364, 190 368, 195 373 C 199 377, 201 383, 202.5 390 C 204 397, 205 404, 203 410 C 201 415, 196 417.5, 188 417.2 C 178 417, 168 414, 160 408 C 153 403, 149.5 395, 150 383 Z" fill="none" stroke="#5a5a66" stroke-width="0.6"/>
<line x1="193.00" y1="417.20" x2="204.00" y2="417.20" stroke="#333" stroke-width="1.2"/>
<clipPath id="g8b"><rect x="208.6" y="363.2" width="52" height="56"/></clipPath>
<g clip-path="url(#g8b)">
<ellipse cx="218" cy="412" rx="12" ry="8" fill="#dcd2d8" opacity="0.8" filter="url(#bl2)"/>
<path d="M214 368 C 220 363.8, 232 363.5, 242 365 C 250 367, 256 372, 258 380 C 260.5 388, 260 396, 258 404 C 255 412, 248 417, 238 417.6 C 228 418, 220 414, 216 406 C 212 398, 211 386, 211.5 376 C 211.8 372, 212.5 369.5, 214 368 Z" fill="#6fb39b" opacity="1"/>
<path d="M215.5 370 C 222 365.8, 233 365.6, 242 367 C 250 369.5, 255.5 375, 257 384 C 258.5 393, 257.5 401, 255 408 C 250.5 414, 243 416, 235 415.8 C 227 415.5, 220 411, 217.5 403 C 214.5 394, 214 381, 215.5 370 Z" fill="#d8d6da" opacity="1"/>
<ellipse cx="236" cy="390" rx="13" ry="12" fill="#aa9eac" opacity="0.7" filter="url(#bl3)"/>
<ellipse cx="246" cy="402" rx="4" ry="7" fill="#9c1f40" opacity="0.8" filter="url(#bl1)" transform="rotate(25 246 402)"/>
<ellipse cx="240" cy="404" rx="2" ry="5" fill="#a03050" opacity="0.5" filter="url(#bl05)" transform="rotate(25 240 404)"/>
</g>
<path d="M209.5 366 C 208.8 380, 209 395, 214 404 C 218 412, 224 416, 230 419" fill="none" stroke="#53606e" stroke-width="0.8"/>
<path d="M214 368 C 220 363.8, 232 363.5, 242 365 C 250 367, 256 372, 258 380 C 260.5 388, 260 396, 258 404 C 255 412, 248 417, 238 417.6 C 228 418, 220 414, 216 406 C 212 398, 211 386, 211.5 376 C 211.8 372, 212.5 369.5, 214 368 Z" fill="none" stroke="#3f6f66" stroke-width="0.6"/>
<rect x="208" y="363" width="53" height="57" filter="url(#hn)" opacity="0.25" clip-path="url(#g8b)"/>
<line x1="248.50" y1="418.20" x2="259.50" y2="418.20" stroke="#333" stroke-width="1.2"/>
<text x="26.30" y="335.00" font-size="8.2" text-anchor="middle" textLength="28.5" lengthAdjust="spacingAndGlyphs" transform="rotate(-90 26.30 335.00)">Control</text>
<text x="26.30" y="390.20" font-size="8.2" text-anchor="middle" textLength="24" lengthAdjust="spacingAndGlyphs" transform="rotate(-90 26.30 390.20)">TBRIIΔk</text>
<text x="62.70" y="431.60" font-size="8.4" text-anchor="middle" textLength="20.6" lengthAdjust="spacingAndGlyphs">Day 3</text>
<text x="119.30" y="431.60" font-size="8.4" text-anchor="middle" textLength="20.6" lengthAdjust="spacingAndGlyphs">Day 7</text>
<text x="180.70" y="431.60" font-size="8.4" text-anchor="middle" textLength="24.8" lengthAdjust="spacingAndGlyphs">Day 14</text>
<text x="237.50" y="431.60" font-size="8.4" text-anchor="middle" textLength="24.3" lengthAdjust="spacingAndGlyphs">Day 21</text>
<line x1="315.00" y1="311.50" x2="315.00" y2="383.00" stroke="#1e1e1e" stroke-width="1.1"/>
<line x1="312.30" y1="382.50" x2="315.00" y2="382.50" stroke="#1e1e1e" stroke-width="0.9"/>
<text x="310.60" y="385.20" font-size="7.5" text-anchor="end" textLength="3.59" lengthAdjust="spacingAndGlyphs">0</text>
<line x1="312.30" y1="368.50" x2="315.00" y2="368.50" stroke="#1e1e1e" stroke-width="0.9"/>
<text x="310.60" y="371.20" font-size="7.5" text-anchor="end" textLength="7.17" lengthAdjust="spacingAndGlyphs">20</text>
<line x1="312.30" y1="354.50" x2="315.00" y2="354.50" stroke="#1e1e1e" stroke-width="0.9"/>
<text x="310.60" y="357.20" font-size="7.5" text-anchor="end" textLength="7.17" lengthAdjust="spacingAndGlyphs">40</text>
<line x1="312.30" y1="340.50" x2="315.00" y2="340.50" stroke="#1e1e1e" stroke-width="0.9"/>
<text x="310.60" y="343.20" font-size="7.5" text-anchor="end" textLength="7.17" lengthAdjust="spacingAndGlyphs">60</text>
<line x1="312.30" y1="326.50" x2="315.00" y2="326.50" stroke="#1e1e1e" stroke-width="0.9"/>
<text x="310.60" y="329.20" font-size="7.5" text-anchor="end" textLength="7.17" lengthAdjust="spacingAndGlyphs">80</text>
<line x1="312.30" y1="312.50" x2="315.00" y2="312.50" stroke="#1e1e1e" stroke-width="0.9"/>
<text x="310.60" y="315.20" font-size="7.5" text-anchor="end" textLength="10.76" lengthAdjust="spacingAndGlyphs">100</text>
<line x1="314.50" y1="382.50" x2="405.00" y2="382.50" stroke="#1e1e1e" stroke-width="1.1"/>
<line x1="322.20" y1="367.50" x2="322.20" y2="365.50" stroke="#2a2a2a" stroke-width="0.9"/>
<line x1="320.60" y1="365.50" x2="323.80" y2="365.50" stroke="#2a2a2a" stroke-width="0.9"/>
<rect x="318.75" y="367.50" width="6.90" height="15.00" fill="#a6022c" stroke="#8c0022" stroke-width="0.5"/>
<line x1="330.95" y1="363.75" x2="330.95" y2="355.75" stroke="#2a2a2a" stroke-width="0.9"/>
<line x1="329.35" y1="355.75" x2="332.55" y2="355.75" stroke="#2a2a2a" stroke-width="0.9"/>
<rect x="327.50" y="363.75" width="6.90" height="18.75" fill="#2e4b7d" stroke="#1a3670" stroke-width="0.5"/>
<line x1="345.45" y1="336.25" x2="345.45" y2="332.50" stroke="#2a2a2a" stroke-width="0.9"/>
<line x1="343.85" y1="332.50" x2="347.05" y2="332.50" stroke="#2a2a2a" stroke-width="0.9"/>
<rect x="342.00" y="336.25" width="6.90" height="46.25" fill="#a6022c" stroke="#8c0022" stroke-width="0.5"/>
<line x1="354.20" y1="328.25" x2="354.20" y2="324.50" stroke="#2a2a2a" stroke-width="0.9"/>
<line x1="352.60" y1="324.50" x2="355.80" y2="324.50" stroke="#2a2a2a" stroke-width="0.9"/>
<rect x="350.75" y="328.25" width="6.90" height="54.25" fill="#2e4b7d" stroke="#1a3670" stroke-width="0.5"/>
<line x1="368.95" y1="335.50" x2="368.95" y2="332.50" stroke="#2a2a2a" stroke-width="0.9"/>
<line x1="367.35" y1="332.50" x2="370.55" y2="332.50" stroke="#2a2a2a" stroke-width="0.9"/>
<rect x="365.50" y="335.50" width="6.90" height="47.00" fill="#a6022c" stroke="#8c0022" stroke-width="0.5"/>
<line x1="377.70" y1="321.25" x2="377.70" y2="319.25" stroke="#2a2a2a" stroke-width="0.9"/>
<line x1="376.10" y1="319.25" x2="379.30" y2="319.25" stroke="#2a2a2a" stroke-width="0.9"/>
<rect x="374.25" y="321.25" width="6.90" height="61.25" fill="#2e4b7d" stroke="#1a3670" stroke-width="0.5"/>
<line x1="392.45" y1="336.25" x2="392.45" y2="332.50" stroke="#2a2a2a" stroke-width="0.9"/>
<line x1="390.85" y1="332.50" x2="394.05" y2="332.50" stroke="#2a2a2a" stroke-width="0.9"/>
<rect x="389.00" y="336.25" width="6.90" height="46.25" fill="#a6022c" stroke="#8c0022" stroke-width="0.5"/>
<line x1="400.95" y1="325.00" x2="400.95" y2="320.50" stroke="#2a2a2a" stroke-width="0.9"/>
<line x1="399.35" y1="320.50" x2="402.55" y2="320.50" stroke="#2a2a2a" stroke-width="0.9"/>
<rect x="397.50" y="325.00" width="6.90" height="57.50" fill="#2e4b7d" stroke="#1a3670" stroke-width="0.5"/>
<line x1="326.60" y1="382.50" x2="326.60" y2="385.10" stroke="#1e1e1e" stroke-width="0.9"/>
<text x="326.60" y="395.60" font-size="7.6" text-anchor="middle">3</text>
<line x1="349.80" y1="382.50" x2="349.80" y2="385.10" stroke="#1e1e1e" stroke-width="0.9"/>
<text x="349.80" y="395.60" font-size="7.6" text-anchor="middle">7</text>
<line x1="373.30" y1="382.50" x2="373.30" y2="385.10" stroke="#1e1e1e" stroke-width="0.9"/>
<text x="373.30" y="395.60" font-size="7.6" text-anchor="middle">14</text>
<line x1="396.60" y1="382.50" x2="396.60" y2="385.10" stroke="#1e1e1e" stroke-width="0.9"/>
<text x="396.60" y="395.60" font-size="7.6" text-anchor="middle">21</text>
<line x1="368.75" y1="315.00" x2="378.00" y2="315.00" stroke="#3a3a3a" stroke-width="1.2"/>
<text x="371.52" y="313.30" font-size="8.5" text-anchor="middle">*</text>
<text x="375.23" y="313.30" font-size="8.5" text-anchor="middle">*</text>
<line x1="392.00" y1="315.00" x2="401.25" y2="315.00" stroke="#3a3a3a" stroke-width="1.2"/>
<text x="396.62" y="313.30" font-size="8.5" text-anchor="middle">*</text>
<text x="361.30" y="409.60" font-size="9.7" text-anchor="middle" textLength="60" lengthAdjust="spacingAndGlyphs">Days post ligation</text>
<text x="289.60" y="347.50" font-size="8.4" text-anchor="middle" textLength="57.5" lengthAdjust="spacingAndGlyphs" transform="rotate(-90 289.60 347.50)">Collagen area (%)</text>
<text x="7.30" y="460.60" font-size="11.8" font-weight="bold" style="fill:#000;stroke:#000;stroke-width:0.3px">H</text>
<line x1="44.50" y1="465.18" x2="44.50" y2="530.40" stroke="#1e1e1e" stroke-width="1.1"/>
<line x1="41.80" y1="529.90" x2="44.50" y2="529.90" stroke="#1e1e1e" stroke-width="0.9"/>
<text x="38.30" y="532.89" font-size="8.3" text-anchor="end" textLength="3.97" lengthAdjust="spacingAndGlyphs">0</text>
<line x1="41.80" y1="509.16" x2="44.50" y2="509.16" stroke="#1e1e1e" stroke-width="0.9"/>
<text x="38.30" y="512.15" font-size="8.3" text-anchor="end" textLength="3.97" lengthAdjust="spacingAndGlyphs">2</text>
<line x1="41.80" y1="488.42" x2="44.50" y2="488.42" stroke="#1e1e1e" stroke-width="0.9"/>
<text x="38.30" y="491.41" font-size="8.3" text-anchor="end" textLength="3.97" lengthAdjust="spacingAndGlyphs">4</text>
<line x1="41.80" y1="467.68" x2="44.50" y2="467.68" stroke="#1e1e1e" stroke-width="0.9"/>
<text x="38.30" y="470.67" font-size="8.3" text-anchor="end" textLength="3.97" lengthAdjust="spacingAndGlyphs">6</text>
<line x1="44.00" y1="529.90" x2="120.50" y2="529.90" stroke="#1e1e1e" stroke-width="1.1"/>
<rect x="49.10" y="524.50" width="6.60" height="5.40" fill="#a6022c" stroke="#8c0022" stroke-width="0.5"/>
<line x1="62.00" y1="509.50" x2="62.00" y2="501.25" stroke="#2a2a2a" stroke-width="0.9"/>
<line x1="60.40" y1="501.25" x2="63.60" y2="501.25" stroke="#2a2a2a" stroke-width="0.9"/>
<rect x="58.70" y="509.50" width="6.60" height="20.40" fill="#2e4b7d" stroke="#1a3670" stroke-width="0.5"/>
<line x1="56.90" y1="529.90" x2="56.90" y2="532.50" stroke="#1e1e1e" stroke-width="0.9"/>
<text x="56.90" y="543.00" font-size="8.3" text-anchor="middle" textLength="3.97" lengthAdjust="spacingAndGlyphs">7</text>
<line x1="77.60" y1="520.75" x2="77.60" y2="515.50" stroke="#2a2a2a" stroke-width="0.9"/>
<line x1="76.00" y1="515.50" x2="79.20" y2="515.50" stroke="#2a2a2a" stroke-width="0.9"/>
<rect x="74.30" y="520.75" width="6.60" height="9.15" fill="#a6022c" stroke="#8c0022" stroke-width="0.5"/>
<line x1="87.20" y1="481.25" x2="87.20" y2="479.50" stroke="#2a2a2a" stroke-width="0.9"/>
<line x1="85.60" y1="479.50" x2="88.80" y2="479.50" stroke="#2a2a2a" stroke-width="0.9"/>
<rect x="83.90" y="481.25" width="6.60" height="48.65" fill="#2e4b7d" stroke="#1a3670" stroke-width="0.5"/>
<line x1="82.10" y1="529.90" x2="82.10" y2="532.50" stroke="#1e1e1e" stroke-width="0.9"/>
<text x="82.10" y="543.00" font-size="8.3" text-anchor="middle" textLength="7.94" lengthAdjust="spacingAndGlyphs">14</text>
<line x1="102.80" y1="518.00" x2="102.80" y2="515.00" stroke="#2a2a2a" stroke-width="0.9"/>
<line x1="101.20" y1="515.00" x2="104.40" y2="515.00" stroke="#2a2a2a" stroke-width="0.9"/>
<rect x="99.50" y="518.00" width="6.60" height="11.90" fill="#a6022c" stroke="#8c0022" stroke-width="0.5"/>
<line x1="112.40" y1="513.75" x2="112.40" y2="512.50" stroke="#2a2a2a" stroke-width="0.9"/>
<line x1="110.80" y1="512.50" x2="114.00" y2="512.50" stroke="#2a2a2a" stroke-width="0.9"/>
<rect x="109.10" y="513.75" width="6.60" height="16.15" fill="#2e4b7d" stroke="#1a3670" stroke-width="0.5"/>
<line x1="107.30" y1="529.90" x2="107.30" y2="532.50" stroke="#1e1e1e" stroke-width="0.9"/>
<text x="107.30" y="543.00" font-size="8.3" text-anchor="middle" textLength="7.94" lengthAdjust="spacingAndGlyphs">21</text>
<line x1="51.25" y1="495.75" x2="62.00" y2="495.75" stroke="#3a3a3a" stroke-width="1.2"/>
<text x="56.62" y="494.05" font-size="8.5" text-anchor="middle">*</text>
<line x1="77.00" y1="475.50" x2="88.00" y2="475.50" stroke="#3a3a3a" stroke-width="1.2"/>
<text x="82.50" y="473.80" font-size="8.5" text-anchor="middle">*</text>
<line x1="102.50" y1="497.50" x2="113.00" y2="497.50" stroke="#3a3a3a" stroke-width="1.2"/>
<text x="107.75" y="495.80" font-size="8.5" text-anchor="middle">*</text>
<text x="83.10" y="458.10" font-size="9.8" text-anchor="middle" font-style="italic" textLength="24.6" lengthAdjust="spacingAndGlyphs" style="stroke-width:0.12px">CD68</text>
<text x="82.30" y="556.60" font-size="9.7" text-anchor="middle" textLength="61" lengthAdjust="spacingAndGlyphs">Days post ligation</text>
<text x="27.10" y="496.50" font-size="8.8" text-anchor="middle" textLength="66.8" lengthAdjust="spacingAndGlyphs" transform="rotate(-90 27.10 496.50)">Relative expression</text>
<line x1="161.20" y1="463.80" x2="161.20" y2="530.40" stroke="#1e1e1e" stroke-width="1.1"/>
<line x1="158.50" y1="529.90" x2="161.20" y2="529.90" stroke="#1e1e1e" stroke-width="0.9"/>
<text x="155.00" y="532.89" font-size="8.3" text-anchor="end" textLength="3.97" lengthAdjust="spacingAndGlyphs">0</text>
<line x1="158.50" y1="508.70" x2="161.20" y2="508.70" stroke="#1e1e1e" stroke-width="0.9"/>
<text x="155.00" y="511.69" font-size="8.3" text-anchor="end" textLength="3.97" lengthAdjust="spacingAndGlyphs">2</text>
<line x1="158.50" y1="487.50" x2="161.20" y2="487.50" stroke="#1e1e1e" stroke-width="0.9"/>
<text x="155.00" y="490.49" font-size="8.3" text-anchor="end" textLength="3.97" lengthAdjust="spacingAndGlyphs">4</text>
<line x1="158.50" y1="466.30" x2="161.20" y2="466.30" stroke="#1e1e1e" stroke-width="0.9"/>
<text x="155.00" y="469.29" font-size="8.3" text-anchor="end" textLength="3.97" lengthAdjust="spacingAndGlyphs">6</text>
<line x1="160.70" y1="529.90" x2="237.20" y2="529.90" stroke="#1e1e1e" stroke-width="1.1"/>
<rect x="165.80" y="523.75" width="6.60" height="6.15" fill="#a6022c" stroke="#8c0022" stroke-width="0.5"/>
<line x1="178.70" y1="493.75" x2="178.70" y2="483.25" stroke="#2a2a2a" stroke-width="0.9"/>
<line x1="177.10" y1="483.25" x2="180.30" y2="483.25" stroke="#2a2a2a" stroke-width="0.9"/>
<rect x="175.40" y="493.75" width="6.60" height="36.15" fill="#2e4b7d" stroke="#1a3670" stroke-width="0.5"/>
<line x1="173.60" y1="529.90" x2="173.60" y2="532.50" stroke="#1e1e1e" stroke-width="0.9"/>
<text x="173.60" y="543.00" font-size="8.3" text-anchor="middle" textLength="3.97" lengthAdjust="spacingAndGlyphs">7</text>
<line x1="194.30" y1="519.25" x2="194.30" y2="516.25" stroke="#2a2a2a" stroke-width="0.9"/>
<line x1="192.70" y1="516.25" x2="195.90" y2="516.25" stroke="#2a2a2a" stroke-width="0.9"/>
<rect x="191.00" y="519.25" width="6.60" height="10.65" fill="#a6022c" stroke="#8c0022" stroke-width="0.5"/>
<line x1="203.90" y1="478.75" x2="203.90" y2="473.25" stroke="#2a2a2a" stroke-width="0.9"/>
<line x1="202.30" y1="473.25" x2="205.50" y2="473.25" stroke="#2a2a2a" stroke-width="0.9"/>
<rect x="200.60" y="478.75" width="6.60" height="51.15" fill="#2e4b7d" stroke="#1a3670" stroke-width="0.5"/>
<line x1="198.80" y1="529.90" x2="198.80" y2="532.50" stroke="#1e1e1e" stroke-width="0.9"/>
<text x="198.80" y="543.00" font-size="8.3" text-anchor="middle" textLength="7.94" lengthAdjust="spacingAndGlyphs">14</text>
<line x1="219.50" y1="518.25" x2="219.50" y2="516.25" stroke="#2a2a2a" stroke-width="0.9"/>
<line x1="217.90" y1="516.25" x2="221.10" y2="516.25" stroke="#2a2a2a" stroke-width="0.9"/>
<rect x="216.20" y="518.25" width="6.60" height="11.65" fill="#a6022c" stroke="#8c0022" stroke-width="0.5"/>
<line x1="229.10" y1="512.00" x2="229.10" y2="510.00" stroke="#2a2a2a" stroke-width="0.9"/>
<line x1="227.50" y1="510.00" x2="230.70" y2="510.00" stroke="#2a2a2a" stroke-width="0.9"/>
<rect x="225.80" y="512.00" width="6.60" height="17.90" fill="#2e4b7d" stroke="#1a3670" stroke-width="0.5"/>
<line x1="224.00" y1="529.90" x2="224.00" y2="532.50" stroke="#1e1e1e" stroke-width="0.9"/>
<text x="224.00" y="543.00" font-size="8.3" text-anchor="middle" textLength="7.94" lengthAdjust="spacingAndGlyphs">21</text>
<line x1="168.00" y1="478.75" x2="179.25" y2="478.75" stroke="#3a3a3a" stroke-width="1.2"/>
<text x="173.62" y="477.05" font-size="8.5" text-anchor="middle">*</text>
<line x1="193.75" y1="469.25" x2="204.25" y2="469.25" stroke="#3a3a3a" stroke-width="1.2"/>
<text x="199.00" y="467.55" font-size="8.5" text-anchor="middle">*</text>
<text x="200.00" y="458.10" font-size="9.8" text-anchor="middle" font-style="italic" textLength="33.3" lengthAdjust="spacingAndGlyphs" style="stroke-width:0.12px">MMP-2</text>
<text x="199.00" y="556.60" font-size="9.7" text-anchor="middle" textLength="61" lengthAdjust="spacingAndGlyphs">Days post ligation</text>
<text x="143.80" y="496.50" font-size="8.8" text-anchor="middle" textLength="66.8" lengthAdjust="spacingAndGlyphs" transform="rotate(-90 143.80 496.50)">Relative expression</text>
<line x1="278.20" y1="463.72" x2="278.20" y2="530.40" stroke="#1e1e1e" stroke-width="1.1"/>
<line x1="275.50" y1="529.90" x2="278.20" y2="529.90" stroke="#1e1e1e" stroke-width="0.9"/>
<text x="272.00" y="532.89" font-size="8.3" text-anchor="end" textLength="3.97" lengthAdjust="spacingAndGlyphs">0</text>
<line x1="275.50" y1="513.98" x2="278.20" y2="513.98" stroke="#1e1e1e" stroke-width="0.9"/>
<text x="272.00" y="516.97" font-size="8.3" text-anchor="end" textLength="3.97" lengthAdjust="spacingAndGlyphs">2</text>
<line x1="275.50" y1="498.06" x2="278.20" y2="498.06" stroke="#1e1e1e" stroke-width="0.9"/>
<text x="272.00" y="501.05" font-size="8.3" text-anchor="end" textLength="3.97" lengthAdjust="spacingAndGlyphs">4</text>
<line x1="275.50" y1="482.14" x2="278.20" y2="482.14" stroke="#1e1e1e" stroke-width="0.9"/>
<text x="272.00" y="485.13" font-size="8.3" text-anchor="end" textLength="3.97" lengthAdjust="spacingAndGlyphs">6</text>
<line x1="275.50" y1="466.22" x2="278.20" y2="466.22" stroke="#1e1e1e" stroke-width="0.9"/>
<text x="272.00" y="469.21" font-size="8.3" text-anchor="end" textLength="3.97" lengthAdjust="spacingAndGlyphs">8</text>
<line x1="277.70" y1="529.90" x2="354.20" y2="529.90" stroke="#1e1e1e" stroke-width="1.1"/>
<rect x="282.80" y="526.25" width="6.60" height="3.65" fill="#a6022c" stroke="#8c0022" stroke-width="0.5"/>
<line x1="295.70" y1="518.75" x2="295.70" y2="516.25" stroke="#2a2a2a" stroke-width="0.9"/>
<line x1="294.10" y1="516.25" x2="297.30" y2="516.25" stroke="#2a2a2a" stroke-width="0.9"/>
<rect x="292.40" y="518.75" width="6.60" height="11.15" fill="#2e4b7d" stroke="#1a3670" stroke-width="0.5"/>
<line x1="290.60" y1="529.90" x2="290.60" y2="532.50" stroke="#1e1e1e" stroke-width="0.9"/>
<text x="290.60" y="543.00" font-size="8.3" text-anchor="middle" textLength="3.97" lengthAdjust="spacingAndGlyphs">7</text>
<line x1="311.30" y1="520.75" x2="311.30" y2="518.00" stroke="#2a2a2a" stroke-width="0.9"/>
<line x1="309.70" y1="518.00" x2="312.90" y2="518.00" stroke="#2a2a2a" stroke-width="0.9"/>
<rect x="308.00" y="520.75" width="6.60" height="9.15" fill="#a6022c" stroke="#8c0022" stroke-width="0.5"/>
<line x1="320.90" y1="495.00" x2="320.90" y2="483.25" stroke="#2a2a2a" stroke-width="0.9"/>
<line x1="319.30" y1="483.25" x2="322.50" y2="483.25" stroke="#2a2a2a" stroke-width="0.9"/>
<rect x="317.60" y="495.00" width="6.60" height="34.90" fill="#2e4b7d" stroke="#1a3670" stroke-width="0.5"/>
<line x1="315.80" y1="529.90" x2="315.80" y2="532.50" stroke="#1e1e1e" stroke-width="0.9"/>
<text x="315.80" y="543.00" font-size="8.3" text-anchor="middle" textLength="7.94" lengthAdjust="spacingAndGlyphs">14</text>
<line x1="336.50" y1="520.00" x2="336.50" y2="517.50" stroke="#2a2a2a" stroke-width="0.9"/>
<line x1="334.90" y1="517.50" x2="338.10" y2="517.50" stroke="#2a2a2a" stroke-width="0.9"/>
<rect x="333.20" y="520.00" width="6.60" height="9.90" fill="#a6022c" stroke="#8c0022" stroke-width="0.5"/>
<line x1="346.10" y1="516.25" x2="346.10" y2="515.00" stroke="#2a2a2a" stroke-width="0.9"/>
<line x1="344.50" y1="515.00" x2="347.70" y2="515.00" stroke="#2a2a2a" stroke-width="0.9"/>
<rect x="342.80" y="516.25" width="6.60" height="13.65" fill="#2e4b7d" stroke="#1a3670" stroke-width="0.5"/>
<line x1="341.00" y1="529.90" x2="341.00" y2="532.50" stroke="#1e1e1e" stroke-width="0.9"/>
<text x="341.00" y="543.00" font-size="8.3" text-anchor="middle" textLength="7.94" lengthAdjust="spacingAndGlyphs">21</text>
<line x1="310.75" y1="475.00" x2="321.25" y2="475.00" stroke="#3a3a3a" stroke-width="1.2"/>
<text x="316.00" y="473.30" font-size="8.5" text-anchor="middle">*</text>
<text x="316.20" y="458.10" font-size="9.8" text-anchor="middle" font-style="italic" textLength="33.3" lengthAdjust="spacingAndGlyphs" style="stroke-width:0.12px">MMP-9</text>
<text x="316.00" y="556.60" font-size="9.7" text-anchor="middle" textLength="61" lengthAdjust="spacingAndGlyphs">Days post ligation</text>
<text x="260.80" y="496.50" font-size="8.8" text-anchor="middle" textLength="66.8" lengthAdjust="spacingAndGlyphs" transform="rotate(-90 260.80 496.50)">Relative expression</text>
<line x1="394.60" y1="463.80" x2="394.60" y2="530.40" stroke="#1e1e1e" stroke-width="1.1"/>
<line x1="391.90" y1="529.90" x2="394.60" y2="529.90" stroke="#1e1e1e" stroke-width="0.9"/>
<text x="388.40" y="532.89" font-size="8.3" text-anchor="end" textLength="3.97" lengthAdjust="spacingAndGlyphs">0</text>
<line x1="391.90" y1="508.70" x2="394.60" y2="508.70" stroke="#1e1e1e" stroke-width="0.9"/>
<text x="388.40" y="511.69" font-size="8.3" text-anchor="end" textLength="3.97" lengthAdjust="spacingAndGlyphs">2</text>
<line x1="391.90" y1="487.50" x2="394.60" y2="487.50" stroke="#1e1e1e" stroke-width="0.9"/>
<text x="388.40" y="490.49" font-size="8.3" text-anchor="end" textLength="3.97" lengthAdjust="spacingAndGlyphs">4</text>
<line x1="391.90" y1="466.30" x2="394.60" y2="466.30" stroke="#1e1e1e" stroke-width="0.9"/>
<text x="388.40" y="469.29" font-size="8.3" text-anchor="end" textLength="3.97" lengthAdjust="spacingAndGlyphs">6</text>
<line x1="394.10" y1="529.90" x2="470.60" y2="529.90" stroke="#1e1e1e" stroke-width="1.1"/>
<line x1="402.50" y1="518.10" x2="402.50" y2="512.70" stroke="#2a2a2a" stroke-width="0.9"/>
<line x1="400.90" y1="512.70" x2="404.10" y2="512.70" stroke="#2a2a2a" stroke-width="0.9"/>
<rect x="399.20" y="518.10" width="6.60" height="11.80" fill="#a6022c" stroke="#8c0022" stroke-width="0.5"/>
<line x1="412.10" y1="508.70" x2="412.10" y2="497.10" stroke="#2a2a2a" stroke-width="0.9"/>
<line x1="410.50" y1="497.10" x2="413.70" y2="497.10" stroke="#2a2a2a" stroke-width="0.9"/>
<rect x="408.80" y="508.70" width="6.60" height="21.20" fill="#2e4b7d" stroke="#1a3670" stroke-width="0.5"/>
<line x1="407.00" y1="529.90" x2="407.00" y2="532.50" stroke="#1e1e1e" stroke-width="0.9"/>
<text x="407.00" y="543.00" font-size="8.3" text-anchor="middle" textLength="3.97" lengthAdjust="spacingAndGlyphs">7</text>
<line x1="427.70" y1="515.20" x2="427.70" y2="507.40" stroke="#2a2a2a" stroke-width="0.9"/>
<line x1="426.10" y1="507.40" x2="429.30" y2="507.40" stroke="#2a2a2a" stroke-width="0.9"/>
<rect x="424.40" y="515.20" width="6.60" height="14.70" fill="#a6022c" stroke="#8c0022" stroke-width="0.5"/>
<line x1="437.30" y1="489.00" x2="437.30" y2="473.40" stroke="#2a2a2a" stroke-width="0.9"/>
<line x1="435.70" y1="473.40" x2="438.90" y2="473.40" stroke="#2a2a2a" stroke-width="0.9"/>
<rect x="434.00" y="489.00" width="6.60" height="40.90" fill="#2e4b7d" stroke="#1a3670" stroke-width="0.5"/>
<line x1="432.20" y1="529.90" x2="432.20" y2="532.50" stroke="#1e1e1e" stroke-width="0.9"/>
<text x="432.20" y="543.00" font-size="8.3" text-anchor="middle" textLength="7.94" lengthAdjust="spacingAndGlyphs">14</text>
<line x1="452.90" y1="518.10" x2="452.90" y2="514.60" stroke="#2a2a2a" stroke-width="0.9"/>
<line x1="451.30" y1="514.60" x2="454.50" y2="514.60" stroke="#2a2a2a" stroke-width="0.9"/>
<rect x="449.60" y="518.10" width="6.60" height="11.80" fill="#a6022c" stroke="#8c0022" stroke-width="0.5"/>
<line x1="462.50" y1="523.20" x2="462.50" y2="521.40" stroke="#2a2a2a" stroke-width="0.9"/>
<line x1="460.90" y1="521.40" x2="464.10" y2="521.40" stroke="#2a2a2a" stroke-width="0.9"/>
<rect x="459.20" y="523.20" width="6.60" height="6.70" fill="#2e4b7d" stroke="#1a3670" stroke-width="0.5"/>
<line x1="457.40" y1="529.90" x2="457.40" y2="532.50" stroke="#1e1e1e" stroke-width="0.9"/>
<text x="457.40" y="543.00" font-size="8.3" text-anchor="middle" textLength="7.94" lengthAdjust="spacingAndGlyphs">21</text>
<line x1="427.10" y1="468.80" x2="438.40" y2="468.80" stroke="#3a3a3a" stroke-width="1.2"/>
<text x="432.75" y="467.10" font-size="8.5" text-anchor="middle">*</text>
<text x="433.60" y="458.10" font-size="9.8" text-anchor="middle" font-style="italic" textLength="39.0" lengthAdjust="spacingAndGlyphs" style="stroke-width:0.12px">PLA2G5</text>
<text x="432.40" y="556.60" font-size="9.7" text-anchor="middle" textLength="61" lengthAdjust="spacingAndGlyphs">Days post ligation</text>
<text x="377.20" y="496.50" font-size="8.8" text-anchor="middle" textLength="66.8" lengthAdjust="spacingAndGlyphs" transform="rotate(-90 377.20 496.50)">Relative expression</text>
<line x1="44.50" y1="589.50" x2="44.50" y2="656.25" stroke="#1e1e1e" stroke-width="1.1"/>
<line x1="41.80" y1="655.75" x2="44.50" y2="655.75" stroke="#1e1e1e" stroke-width="0.9"/>
<text x="38.30" y="658.74" font-size="8.3" text-anchor="end" textLength="3.97" lengthAdjust="spacingAndGlyphs">0</text>
<line x1="41.80" y1="643.00" x2="44.50" y2="643.00" stroke="#1e1e1e" stroke-width="0.9"/>
<text x="38.30" y="645.99" font-size="8.3" text-anchor="end" textLength="3.97" lengthAdjust="spacingAndGlyphs">1</text>
<line x1="41.80" y1="630.25" x2="44.50" y2="630.25" stroke="#1e1e1e" stroke-width="0.9"/>
<text x="38.30" y="633.24" font-size="8.3" text-anchor="end" textLength="3.97" lengthAdjust="spacingAndGlyphs">2</text>
<line x1="41.80" y1="617.50" x2="44.50" y2="617.50" stroke="#1e1e1e" stroke-width="0.9"/>
<text x="38.30" y="620.49" font-size="8.3" text-anchor="end" textLength="3.97" lengthAdjust="spacingAndGlyphs">3</text>
<line x1="41.80" y1="604.75" x2="44.50" y2="604.75" stroke="#1e1e1e" stroke-width="0.9"/>
<text x="38.30" y="607.74" font-size="8.3" text-anchor="end" textLength="3.97" lengthAdjust="spacingAndGlyphs">4</text>
<line x1="41.80" y1="592.00" x2="44.50" y2="592.00" stroke="#1e1e1e" stroke-width="0.9"/>
<text x="38.30" y="594.99" font-size="8.3" text-anchor="end" textLength="3.97" lengthAdjust="spacingAndGlyphs">5</text>
<line x1="44.00" y1="655.75" x2="120.50" y2="655.75" stroke="#1e1e1e" stroke-width="1.1"/>
<line x1="52.40" y1="641.25" x2="52.40" y2="633.75" stroke="#2a2a2a" stroke-width="0.9"/>
<line x1="50.80" y1="633.75" x2="54.00" y2="633.75" stroke="#2a2a2a" stroke-width="0.9"/>
<rect x="49.10" y="641.25" width="6.60" height="14.50" fill="#a6022c" stroke="#8c0022" stroke-width="0.5"/>
<line x1="62.00" y1="651.25" x2="62.00" y2="650.00" stroke="#2a2a2a" stroke-width="0.9"/>
<line x1="60.40" y1="650.00" x2="63.60" y2="650.00" stroke="#2a2a2a" stroke-width="0.9"/>
<rect x="58.70" y="651.25" width="6.60" height="4.50" fill="#2e4b7d" stroke="#1a3670" stroke-width="0.5"/>
<line x1="56.90" y1="655.75" x2="56.90" y2="658.35" stroke="#1e1e1e" stroke-width="0.9"/>
<text x="56.90" y="668.85" font-size="8.3" text-anchor="middle" textLength="3.97" lengthAdjust="spacingAndGlyphs">7</text>
<line x1="77.60" y1="638.00" x2="77.60" y2="630.50" stroke="#2a2a2a" stroke-width="0.9"/>
<line x1="76.00" y1="630.50" x2="79.20" y2="630.50" stroke="#2a2a2a" stroke-width="0.9"/>
<rect x="74.30" y="638.00" width="6.60" height="17.75" fill="#a6022c" stroke="#8c0022" stroke-width="0.5"/>
<line x1="87.20" y1="612.50" x2="87.20" y2="600.75" stroke="#2a2a2a" stroke-width="0.9"/>
<line x1="85.60" y1="600.75" x2="88.80" y2="600.75" stroke="#2a2a2a" stroke-width="0.9"/>
<rect x="83.90" y="612.50" width="6.60" height="43.25" fill="#2e4b7d" stroke="#1a3670" stroke-width="0.5"/>
<line x1="82.10" y1="655.75" x2="82.10" y2="658.35" stroke="#1e1e1e" stroke-width="0.9"/>
<text x="82.10" y="668.85" font-size="8.3" text-anchor="middle" textLength="7.94" lengthAdjust="spacingAndGlyphs">14</text>
<line x1="102.80" y1="641.25" x2="102.80" y2="635.50" stroke="#2a2a2a" stroke-width="0.9"/>
<line x1="101.20" y1="635.50" x2="104.40" y2="635.50" stroke="#2a2a2a" stroke-width="0.9"/>
<rect x="99.50" y="641.25" width="6.60" height="14.50" fill="#a6022c" stroke="#8c0022" stroke-width="0.5"/>
<line x1="112.40" y1="644.00" x2="112.40" y2="638.75" stroke="#2a2a2a" stroke-width="0.9"/>
<line x1="110.80" y1="638.75" x2="114.00" y2="638.75" stroke="#2a2a2a" stroke-width="0.9"/>
<rect x="109.10" y="644.00" width="6.60" height="11.75" fill="#2e4b7d" stroke="#1a3670" stroke-width="0.5"/>
<line x1="107.30" y1="655.75" x2="107.30" y2="658.35" stroke="#1e1e1e" stroke-width="0.9"/>
<text x="107.30" y="668.85" font-size="8.3" text-anchor="middle" textLength="7.94" lengthAdjust="spacingAndGlyphs">21</text>
<line x1="77.00" y1="595.00" x2="88.00" y2="595.00" stroke="#3a3a3a" stroke-width="1.2"/>
<text x="82.50" y="593.30" font-size="8.5" text-anchor="middle">*</text>
<text x="82.90" y="583.95" font-size="9.8" text-anchor="middle" font-style="italic" textLength="39.0" lengthAdjust="spacingAndGlyphs" style="stroke-width:0.12px">CLDN14</text>
<text x="82.30" y="682.45" font-size="9.7" text-anchor="middle" textLength="61" lengthAdjust="spacingAndGlyphs">Days post ligation</text>
<text x="27.10" y="622.35" font-size="8.8" text-anchor="middle" textLength="66.8" lengthAdjust="spacingAndGlyphs" transform="rotate(-90 27.10 622.35)">Relative expression</text>
<line x1="161.20" y1="589.50" x2="161.20" y2="656.25" stroke="#1e1e1e" stroke-width="1.1"/>
<line x1="158.50" y1="655.75" x2="161.20" y2="655.75" stroke="#1e1e1e" stroke-width="0.9"/>
<text x="155.00" y="658.74" font-size="8.3" text-anchor="end" textLength="3.97" lengthAdjust="spacingAndGlyphs">0</text>
<line x1="158.50" y1="643.00" x2="161.20" y2="643.00" stroke="#1e1e1e" stroke-width="0.9"/>
<text x="155.00" y="645.99" font-size="8.3" text-anchor="end" textLength="3.97" lengthAdjust="spacingAndGlyphs">1</text>
<line x1="158.50" y1="630.25" x2="161.20" y2="630.25" stroke="#1e1e1e" stroke-width="0.9"/>
<text x="155.00" y="633.24" font-size="8.3" text-anchor="end" textLength="3.97" lengthAdjust="spacingAndGlyphs">2</text>
<line x1="158.50" y1="617.50" x2="161.20" y2="617.50" stroke="#1e1e1e" stroke-width="0.9"/>
<text x="155.00" y="620.49" font-size="8.3" text-anchor="end" textLength="3.97" lengthAdjust="spacingAndGlyphs">3</text>
<line x1="158.50" y1="604.75" x2="161.20" y2="604.75" stroke="#1e1e1e" stroke-width="0.9"/>
<text x="155.00" y="607.74" font-size="8.3" text-anchor="end" textLength="3.97" lengthAdjust="spacingAndGlyphs">4</text>
<line x1="158.50" y1="592.00" x2="161.20" y2="592.00" stroke="#1e1e1e" stroke-width="0.9"/>
<text x="155.00" y="594.99" font-size="8.3" text-anchor="end" textLength="3.97" lengthAdjust="spacingAndGlyphs">5</text>
<line x1="160.70" y1="655.75" x2="237.20" y2="655.75" stroke="#1e1e1e" stroke-width="1.1"/>
<line x1="169.10" y1="642.00" x2="169.10" y2="637.00" stroke="#2a2a2a" stroke-width="0.9"/>
<line x1="167.50" y1="637.00" x2="170.70" y2="637.00" stroke="#2a2a2a" stroke-width="0.9"/>
<rect x="165.80" y="642.00" width="6.60" height="13.75" fill="#a6022c" stroke="#8c0022" stroke-width="0.5"/>
<line x1="178.70" y1="623.75" x2="178.70" y2="613.75" stroke="#2a2a2a" stroke-width="0.9"/>
<line x1="177.10" y1="613.75" x2="180.30" y2="613.75" stroke="#2a2a2a" stroke-width="0.9"/>
<rect x="175.40" y="623.75" width="6.60" height="32.00" fill="#2e4b7d" stroke="#1a3670" stroke-width="0.5"/>
<line x1="173.60" y1="655.75" x2="173.60" y2="658.35" stroke="#1e1e1e" stroke-width="0.9"/>
<text x="173.60" y="668.85" font-size="8.3" text-anchor="middle" textLength="3.97" lengthAdjust="spacingAndGlyphs">7</text>
<line x1="194.30" y1="642.50" x2="194.30" y2="633.25" stroke="#2a2a2a" stroke-width="0.9"/>
<line x1="192.70" y1="633.25" x2="195.90" y2="633.25" stroke="#2a2a2a" stroke-width="0.9"/>
<rect x="191.00" y="642.50" width="6.60" height="13.25" fill="#a6022c" stroke="#8c0022" stroke-width="0.5"/>
<line x1="203.90" y1="606.25" x2="203.90" y2="596.75" stroke="#2a2a2a" stroke-width="0.9"/>
<line x1="202.30" y1="596.75" x2="205.50" y2="596.75" stroke="#2a2a2a" stroke-width="0.9"/>
<rect x="200.60" y="606.25" width="6.60" height="49.50" fill="#2e4b7d" stroke="#1a3670" stroke-width="0.5"/>
<line x1="198.80" y1="655.75" x2="198.80" y2="658.35" stroke="#1e1e1e" stroke-width="0.9"/>
<text x="198.80" y="668.85" font-size="8.3" text-anchor="middle" textLength="7.94" lengthAdjust="spacingAndGlyphs">14</text>
<line x1="219.50" y1="643.00" x2="219.50" y2="641.75" stroke="#2a2a2a" stroke-width="0.9"/>
<line x1="217.90" y1="641.75" x2="221.10" y2="641.75" stroke="#2a2a2a" stroke-width="0.9"/>
<rect x="216.20" y="643.00" width="6.60" height="12.75" fill="#a6022c" stroke="#8c0022" stroke-width="0.5"/>
<line x1="229.10" y1="635.50" x2="229.10" y2="631.25" stroke="#2a2a2a" stroke-width="0.9"/>
<line x1="227.50" y1="631.25" x2="230.70" y2="631.25" stroke="#2a2a2a" stroke-width="0.9"/>
<rect x="225.80" y="635.50" width="6.60" height="20.25" fill="#2e4b7d" stroke="#1a3670" stroke-width="0.5"/>
<line x1="224.00" y1="655.75" x2="224.00" y2="658.35" stroke="#1e1e1e" stroke-width="0.9"/>
<text x="224.00" y="668.85" font-size="8.3" text-anchor="middle" textLength="7.94" lengthAdjust="spacingAndGlyphs">21</text>
<line x1="194.25" y1="593.00" x2="204.50" y2="593.00" stroke="#3a3a3a" stroke-width="1.2"/>
<text x="199.38" y="591.30" font-size="8.5" text-anchor="middle">*</text>
<line x1="218.75" y1="622.50" x2="229.50" y2="622.50" stroke="#3a3a3a" stroke-width="1.2"/>
<text x="224.12" y="620.80" font-size="8.5" text-anchor="middle">*</text>
<text x="199.10" y="583.95" font-size="9.8" text-anchor="middle" font-style="italic" textLength="30.0" lengthAdjust="spacingAndGlyphs" style="stroke-width:0.12px">TGFB1</text>
<text x="199.00" y="682.45" font-size="9.7" text-anchor="middle" textLength="61" lengthAdjust="spacingAndGlyphs">Days post ligation</text>
<text x="143.80" y="622.35" font-size="8.8" text-anchor="middle" textLength="66.8" lengthAdjust="spacingAndGlyphs" transform="rotate(-90 143.80 622.35)">Relative expression</text>
<line x1="278.20" y1="589.49" x2="278.20" y2="656.25" stroke="#1e1e1e" stroke-width="1.1"/>
<line x1="275.50" y1="655.75" x2="278.20" y2="655.75" stroke="#1e1e1e" stroke-width="0.9"/>
<text x="272.00" y="658.74" font-size="8.3" text-anchor="end" textLength="3.97" lengthAdjust="spacingAndGlyphs">0</text>
<line x1="275.50" y1="639.81" x2="278.20" y2="639.81" stroke="#1e1e1e" stroke-width="0.9"/>
<text x="272.00" y="642.80" font-size="8.3" text-anchor="end" textLength="3.97" lengthAdjust="spacingAndGlyphs">1</text>
<line x1="275.50" y1="623.87" x2="278.20" y2="623.87" stroke="#1e1e1e" stroke-width="0.9"/>
<text x="272.00" y="626.86" font-size="8.3" text-anchor="end" textLength="3.97" lengthAdjust="spacingAndGlyphs">2</text>
<line x1="275.50" y1="607.93" x2="278.20" y2="607.93" stroke="#1e1e1e" stroke-width="0.9"/>
<text x="272.00" y="610.92" font-size="8.3" text-anchor="end" textLength="3.97" lengthAdjust="spacingAndGlyphs">3</text>
<line x1="275.50" y1="591.99" x2="278.20" y2="591.99" stroke="#1e1e1e" stroke-width="0.9"/>
<text x="272.00" y="594.98" font-size="8.3" text-anchor="end" textLength="3.97" lengthAdjust="spacingAndGlyphs">4</text>
<line x1="277.70" y1="655.75" x2="354.20" y2="655.75" stroke="#1e1e1e" stroke-width="1.1"/>
<line x1="286.10" y1="638.00" x2="286.10" y2="632.50" stroke="#2a2a2a" stroke-width="0.9"/>
<line x1="284.50" y1="632.50" x2="287.70" y2="632.50" stroke="#2a2a2a" stroke-width="0.9"/>
<rect x="282.80" y="638.00" width="6.60" height="17.75" fill="#a6022c" stroke="#8c0022" stroke-width="0.5"/>
<line x1="295.70" y1="635.75" x2="295.70" y2="628.75" stroke="#2a2a2a" stroke-width="0.9"/>
<line x1="294.10" y1="628.75" x2="297.30" y2="628.75" stroke="#2a2a2a" stroke-width="0.9"/>
<rect x="292.40" y="635.75" width="6.60" height="20.00" fill="#2e4b7d" stroke="#1a3670" stroke-width="0.5"/>
<line x1="290.60" y1="655.75" x2="290.60" y2="658.35" stroke="#1e1e1e" stroke-width="0.9"/>
<text x="290.60" y="668.85" font-size="8.3" text-anchor="middle" textLength="3.97" lengthAdjust="spacingAndGlyphs">7</text>
<line x1="311.30" y1="633.75" x2="311.30" y2="623.25" stroke="#2a2a2a" stroke-width="0.9"/>
<line x1="309.70" y1="623.25" x2="312.90" y2="623.25" stroke="#2a2a2a" stroke-width="0.9"/>
<rect x="308.00" y="633.75" width="6.60" height="22.00" fill="#a6022c" stroke="#8c0022" stroke-width="0.5"/>
<line x1="320.90" y1="614.50" x2="320.90" y2="605.00" stroke="#2a2a2a" stroke-width="0.9"/>
<line x1="319.30" y1="605.00" x2="322.50" y2="605.00" stroke="#2a2a2a" stroke-width="0.9"/>
<rect x="317.60" y="614.50" width="6.60" height="41.25" fill="#2e4b7d" stroke="#1a3670" stroke-width="0.5"/>
<line x1="315.80" y1="655.75" x2="315.80" y2="658.35" stroke="#1e1e1e" stroke-width="0.9"/>
<text x="315.80" y="668.85" font-size="8.3" text-anchor="middle" textLength="7.94" lengthAdjust="spacingAndGlyphs">14</text>
<line x1="336.50" y1="639.25" x2="336.50" y2="636.75" stroke="#2a2a2a" stroke-width="0.9"/>
<line x1="334.90" y1="636.75" x2="338.10" y2="636.75" stroke="#2a2a2a" stroke-width="0.9"/>
<rect x="333.20" y="639.25" width="6.60" height="16.50" fill="#a6022c" stroke="#8c0022" stroke-width="0.5"/>
<line x1="346.10" y1="623.25" x2="346.10" y2="618.25" stroke="#2a2a2a" stroke-width="0.9"/>
<line x1="344.50" y1="618.25" x2="347.70" y2="618.25" stroke="#2a2a2a" stroke-width="0.9"/>
<rect x="342.80" y="623.25" width="6.60" height="32.50" fill="#2e4b7d" stroke="#1a3670" stroke-width="0.5"/>
<line x1="341.00" y1="655.75" x2="341.00" y2="658.35" stroke="#1e1e1e" stroke-width="0.9"/>
<text x="341.00" y="668.85" font-size="8.3" text-anchor="middle" textLength="7.94" lengthAdjust="spacingAndGlyphs">21</text>
<line x1="336.25" y1="612.50" x2="346.75" y2="612.50" stroke="#3a3a3a" stroke-width="1.2"/>
<text x="341.50" y="610.80" font-size="8.5" text-anchor="middle">*</text>
<text x="316.00" y="583.95" font-size="9.8" text-anchor="middle" font-style="italic" textLength="31.3" lengthAdjust="spacingAndGlyphs" style="stroke-width:0.12px">Col1a1</text>
<text x="316.00" y="682.45" font-size="9.7" text-anchor="middle" textLength="61" lengthAdjust="spacingAndGlyphs">Days post ligation</text>
<text x="260.80" y="622.35" font-size="8.8" text-anchor="middle" textLength="66.8" lengthAdjust="spacingAndGlyphs" transform="rotate(-90 260.80 622.35)">Relative expression</text>
<line x1="394.60" y1="589.50" x2="394.60" y2="656.25" stroke="#1e1e1e" stroke-width="1.1"/>
<line x1="391.90" y1="655.75" x2="394.60" y2="655.75" stroke="#1e1e1e" stroke-width="0.9"/>
<text x="388.40" y="658.74" font-size="8.3" text-anchor="end" textLength="3.97" lengthAdjust="spacingAndGlyphs">0</text>
<line x1="391.90" y1="643.00" x2="394.60" y2="643.00" stroke="#1e1e1e" stroke-width="0.9"/>
<text x="388.40" y="645.99" font-size="8.3" text-anchor="end" textLength="3.97" lengthAdjust="spacingAndGlyphs">1</text>
<line x1="391.90" y1="630.25" x2="394.60" y2="630.25" stroke="#1e1e1e" stroke-width="0.9"/>
<text x="388.40" y="633.24" font-size="8.3" text-anchor="end" textLength="3.97" lengthAdjust="spacingAndGlyphs">2</text>
<line x1="391.90" y1="617.50" x2="394.60" y2="617.50" stroke="#1e1e1e" stroke-width="0.9"/>
<text x="388.40" y="620.49" font-size="8.3" text-anchor="end" textLength="3.97" lengthAdjust="spacingAndGlyphs">3</text>
<line x1="391.90" y1="604.75" x2="394.60" y2="604.75" stroke="#1e1e1e" stroke-width="0.9"/>
<text x="388.40" y="607.74" font-size="8.3" text-anchor="end" textLength="3.97" lengthAdjust="spacingAndGlyphs">4</text>
<line x1="391.90" y1="592.00" x2="394.60" y2="592.00" stroke="#1e1e1e" stroke-width="0.9"/>
<text x="388.40" y="594.99" font-size="8.3" text-anchor="end" textLength="3.97" lengthAdjust="spacingAndGlyphs">5</text>
<line x1="394.10" y1="655.75" x2="470.60" y2="655.75" stroke="#1e1e1e" stroke-width="1.1"/>
<line x1="402.50" y1="642.70" x2="402.50" y2="641.40" stroke="#2a2a2a" stroke-width="0.9"/>
<line x1="400.90" y1="641.40" x2="404.10" y2="641.40" stroke="#2a2a2a" stroke-width="0.9"/>
<rect x="399.20" y="642.70" width="6.60" height="13.05" fill="#a6022c" stroke="#8c0022" stroke-width="0.5"/>
<line x1="412.10" y1="631.90" x2="412.10" y2="624.70" stroke="#2a2a2a" stroke-width="0.9"/>
<line x1="410.50" y1="624.70" x2="413.70" y2="624.70" stroke="#2a2a2a" stroke-width="0.9"/>
<rect x="408.80" y="631.90" width="6.60" height="23.85" fill="#2e4b7d" stroke="#1a3670" stroke-width="0.5"/>
<line x1="407.00" y1="655.75" x2="407.00" y2="658.35" stroke="#1e1e1e" stroke-width="0.9"/>
<text x="407.00" y="668.85" font-size="8.3" text-anchor="middle" textLength="3.97" lengthAdjust="spacingAndGlyphs">7</text>
<line x1="427.70" y1="644.60" x2="427.70" y2="639.20" stroke="#2a2a2a" stroke-width="0.9"/>
<line x1="426.10" y1="639.20" x2="429.30" y2="639.20" stroke="#2a2a2a" stroke-width="0.9"/>
<rect x="424.40" y="644.60" width="6.60" height="11.15" fill="#a6022c" stroke="#8c0022" stroke-width="0.5"/>
<line x1="437.30" y1="612.30" x2="437.30" y2="596.40" stroke="#2a2a2a" stroke-width="0.9"/>
<line x1="435.70" y1="596.40" x2="438.90" y2="596.40" stroke="#2a2a2a" stroke-width="0.9"/>
<rect x="434.00" y="612.30" width="6.60" height="43.45" fill="#2e4b7d" stroke="#1a3670" stroke-width="0.5"/>
<line x1="432.20" y1="655.75" x2="432.20" y2="658.35" stroke="#1e1e1e" stroke-width="0.9"/>
<text x="432.20" y="668.85" font-size="8.3" text-anchor="middle" textLength="7.94" lengthAdjust="spacingAndGlyphs">14</text>
<line x1="452.90" y1="641.40" x2="452.90" y2="639.50" stroke="#2a2a2a" stroke-width="0.9"/>
<line x1="451.30" y1="639.50" x2="454.50" y2="639.50" stroke="#2a2a2a" stroke-width="0.9"/>
<rect x="449.60" y="641.40" width="6.60" height="14.35" fill="#a6022c" stroke="#8c0022" stroke-width="0.5"/>
<line x1="462.50" y1="629.80" x2="462.50" y2="627.90" stroke="#2a2a2a" stroke-width="0.9"/>
<line x1="460.90" y1="627.90" x2="464.10" y2="627.90" stroke="#2a2a2a" stroke-width="0.9"/>
<rect x="459.20" y="629.80" width="6.60" height="25.95" fill="#2e4b7d" stroke="#1a3670" stroke-width="0.5"/>
<line x1="457.40" y1="655.75" x2="457.40" y2="658.35" stroke="#1e1e1e" stroke-width="0.9"/>
<text x="457.40" y="668.85" font-size="8.3" text-anchor="middle" textLength="7.94" lengthAdjust="spacingAndGlyphs">21</text>
<line x1="427.10" y1="592.90" x2="437.90" y2="592.90" stroke="#3a3a3a" stroke-width="1.2"/>
<text x="432.50" y="591.20" font-size="8.5" text-anchor="middle">*</text>
<line x1="452.70" y1="623.00" x2="463.50" y2="623.00" stroke="#3a3a3a" stroke-width="1.2"/>
<text x="458.10" y="621.30" font-size="8.5" text-anchor="middle">*</text>
<text x="433.20" y="583.95" font-size="9.8" text-anchor="middle" font-style="italic" textLength="31.8" lengthAdjust="spacingAndGlyphs" style="stroke-width:0.12px">Col3a1</text>
<text x="432.40" y="682.45" font-size="9.7" text-anchor="middle" textLength="61" lengthAdjust="spacingAndGlyphs">Days post ligation</text>
<text x="377.20" y="622.35" font-size="8.8" text-anchor="middle" textLength="66.8" lengthAdjust="spacingAndGlyphs" transform="rotate(-90 377.20 622.35)">Relative expression</text>
<rect x="0.5" y="0.5" width="519" height="692" fill="none" stroke="#000" stroke-width="1.2"/>
</svg>
</body></html>
